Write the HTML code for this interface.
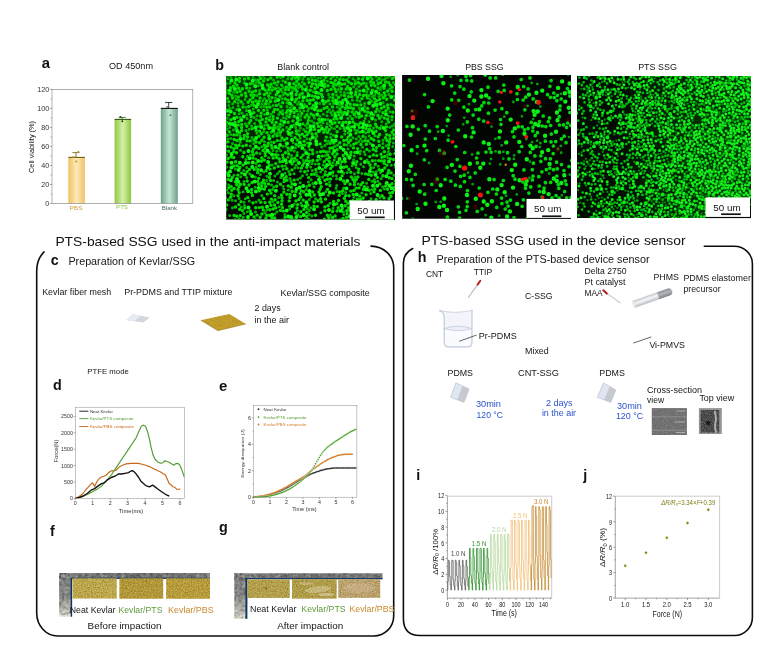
<!DOCTYPE html>
<html lang="en"><head><meta charset="utf-8"><title>PTS-based SSG figure</title>
<style>
html,body{margin:0;padding:0;background:#fff;}
body{width:771px;height:648px;overflow:hidden;}
svg{display:block;font-family:"Liberation Sans",sans-serif;will-change:transform;}
</style></head><body>
<svg width="771" height="648" viewBox="0 0 771 648">
<rect width="771" height="648" fill="#fff"/>
<g id="boxes" fill="none" stroke="#0d0d0d" stroke-width="1.6" stroke-linecap="round">
<path d="M371 246.1 A22.7 21.5 0 0 1 393.7 267.6 V616 A20 20 0 0 1 373.7 636 H57.7 A21 23 0 0 1 36.7 613 V271 C36.7 262 39.5 256.5 44 251.9"/>
<path d="M704.3 246.2 H734.3 A18.1 17.6 0 0 1 752.4 263.8 V617.5 A18 18 0 0 1 734.4 635.5 H420 C409 635.5 403.4 629.5 403.4 618.5 V263 C403.4 256 407 251.5 412.7 248.5"/>
</g>
<text x="55.4" y="245.6" font-size="13.6" fill="#111" textLength="305.0" lengthAdjust="spacingAndGlyphs">PTS-based SSG used in the anti-impact materials</text>
<text x="421.6" y="244.6" font-size="13.6" fill="#111" textLength="264.0" lengthAdjust="spacingAndGlyphs">PTS-based SSG used in the device sensor</text>
<g id="panel-a">
<text x="41.8" y="68.0" font-size="14.8" fill="#111" font-weight="bold">a</text>
<text x="131.0" y="69.0" font-size="9.7" text-anchor="middle" fill="#151515" textLength="44.0" lengthAdjust="spacingAndGlyphs">OD 450nm</text>
<defs><linearGradient id="gPBS" x1="0" x2="1" y1="0" y2="0"><stop offset="0" stop-color="#efc265"/><stop offset=".5" stop-color="#fdeab8"/><stop offset="1" stop-color="#efc265"/></linearGradient><linearGradient id="gPTS" x1="0" x2="1" y1="0" y2="0"><stop offset="0" stop-color="#8fc744"/><stop offset=".5" stop-color="#d6f0a6"/><stop offset="1" stop-color="#8fc744"/></linearGradient><linearGradient id="gBLK" x1="0" x2="1" y1="0" y2="0"><stop offset="0" stop-color="#6f9f8a"/><stop offset=".5" stop-color="#c6e6d6"/><stop offset="1" stop-color="#6f9f8a"/></linearGradient></defs>
<rect x="68.3" y="157.4" width="16.6" height="46.1" fill="url(#gPBS)"/>
<path d="M68.3 157.4H84.9" stroke="#6e5e0c" stroke-width="1.1"/>
<path d="M76.0 157.4V152.6M72.4 152.6H79.6" stroke="#6e5e0c" stroke-width=".8" fill="none"/>
<circle cx="73.2" cy="157" r=".95" fill="#b89a30"/>
<circle cx="78.4" cy="151.6" r=".95" fill="#b89a30"/>
<circle cx="76.3" cy="161.5" r=".95" fill="#b89a30"/>
<rect x="114.6" y="119.4" width="16.5" height="84.1" fill="url(#gPTS)"/>
<path d="M114.6 119.4H131.1" stroke="#2f5a12" stroke-width="1.1"/>
<path d="M122.2 119.4V117.4M118.7 117.4H125.8" stroke="#2f5a12" stroke-width=".8" fill="none"/>
<circle cx="120.4" cy="116.9" r=".95" fill="#1e3a0c"/>
<circle cx="122.3" cy="121.3" r=".95" fill="#1e3a0c"/>
<rect x="160.8" y="108.4" width="17.0" height="95.1" fill="url(#gBLK)"/>
<path d="M160.8 108.4H177.8" stroke="#0c0c0c" stroke-width="1.1"/>
<path d="M168.7 108.4V102.5M165.1 102.5H172.3" stroke="#0c0c0c" stroke-width=".8" fill="none"/>
<circle cx="165.9" cy="102.4" r=".95" fill="#3f8a6a"/>
<circle cx="167.1" cy="106.9" r=".95" fill="#3f8a6a"/>
<circle cx="170.4" cy="115.3" r=".95" fill="#3f8a6a"/>
<rect x="52.0" y="89.4" width="140.8" height="114.1" fill="none" stroke="#7d7d7d" stroke-width=".6"/>
<text x="49.2" y="205.9" font-size="6.8" text-anchor="end" fill="#333" textLength="4.0" lengthAdjust="spacingAndGlyphs">0</text>
<text x="49.2" y="186.9" font-size="6.8" text-anchor="end" fill="#333" textLength="8.0" lengthAdjust="spacingAndGlyphs">20</text>
<text x="49.2" y="167.9" font-size="6.8" text-anchor="end" fill="#333" textLength="8.0" lengthAdjust="spacingAndGlyphs">40</text>
<text x="49.2" y="148.8" font-size="6.8" text-anchor="end" fill="#333" textLength="8.0" lengthAdjust="spacingAndGlyphs">60</text>
<text x="49.2" y="129.8" font-size="6.8" text-anchor="end" fill="#333" textLength="8.0" lengthAdjust="spacingAndGlyphs">80</text>
<text x="49.2" y="110.8" font-size="6.8" text-anchor="end" fill="#333" textLength="12.0" lengthAdjust="spacingAndGlyphs">100</text>
<text x="49.2" y="91.8" font-size="6.8" text-anchor="end" fill="#333" textLength="12.0" lengthAdjust="spacingAndGlyphs">120</text>
<path d="M52.0 203.5h-2.2M52.0 184.5h-2.2M52.0 165.5h-2.2M52.0 146.4h-2.2M52.0 127.4h-2.2M52.0 108.4h-2.2M52.0 89.4h-2.2M52.0 194.0h-1.2M52.0 175.0h-1.2M52.0 156.0h-1.2M52.0 136.9h-1.2M52.0 117.9h-1.2M52.0 98.9h-1.2" stroke="#555" stroke-width=".5"/>
<text x="34.0" y="147.0" font-size="6.9" text-anchor="middle" fill="#151515" textLength="51.8" lengthAdjust="spacingAndGlyphs" transform="rotate(-90 34.0 147.0)">Cell viability (%)</text>
<text x="76.0" y="210.2" font-size="5.7" text-anchor="middle" fill="#c9a040" textLength="13.0" lengthAdjust="spacingAndGlyphs">PBS</text>
<text x="122.0" y="209.2" font-size="5.7" text-anchor="middle" fill="#8cc63f" textLength="11.8" lengthAdjust="spacingAndGlyphs">PTS</text>
<text x="169.4" y="210.0" font-size="5.7" text-anchor="middle" fill="#4a6a5a" textLength="15.2" lengthAdjust="spacingAndGlyphs">Blank</text>
</g>
<g id="panel-b">
<text x="215.2" y="69.8" font-size="14.3" fill="#111" font-weight="bold">b</text>
<text x="303.2" y="70.0" font-size="9.7" text-anchor="middle" fill="#151515" textLength="51.8" lengthAdjust="spacingAndGlyphs">Blank control</text>
<text x="484.4" y="69.9" font-size="9.7" text-anchor="middle" fill="#151515" textLength="38.4" lengthAdjust="spacingAndGlyphs">PBS SSG</text>
<text x="657.5" y="70.0" font-size="9.7" text-anchor="middle" fill="#151515" textLength="38.7" lengthAdjust="spacingAndGlyphs">PTS SSG</text>
<defs><filter id="soft" x="-2%" y="-2%" width="104%" height="104%"><feGaussianBlur stdDeviation=".38"/></filter><linearGradient id="glow1" x1="0" x2="0" y1="0" y2="1"><stop offset="0" stop-color="#00a804" stop-opacity=".32"/><stop offset=".35" stop-color="#00a804" stop-opacity=".2"/><stop offset=".7" stop-color="#00a804" stop-opacity="0"/></linearGradient><linearGradient id="glow3" x1="0" x2="1" y1="0" y2="0"><stop offset=".25" stop-color="#00a804" stop-opacity="0"/><stop offset=".6" stop-color="#00a804" stop-opacity=".18"/><stop offset="1" stop-color="#00a804" stop-opacity=".28"/></linearGradient><clipPath id="c1"><rect x="226.2" y="76.0" width="168.8" height="143.5"/></clipPath><clipPath id="c2"><rect x="402.1" y="75.0" width="168.9" height="143.8"/></clipPath><clipPath id="c3"><rect x="577" y="76.0" width="174" height="142.1"/></clipPath></defs>
<g clip-path="url(#c1)"><rect x="226" y="75" width="170" height="145" fill="#020a02"/><rect x="226" y="75" width="170" height="145" fill="url(#glow1)"/><g filter="url(#soft)">
<path d="M300.7 216.6h0M267.3 194.1h0M263.4 81h0M242.1 220h0M318.9 192h0M348.1 137.1h0M288.2 122.2h0M253.3 149.1h0M365.1 140.6h0M340 220h0M227.9 141.9h0M320.7 198.8h0M346.8 139.7h0M285.4 152.8h0M366.1 194.8h0M296.9 91.3h0M358.3 172.4h0M348.7 142.4h0M251.5 192.6h0M338.3 207.7h0M369.2 190.3h0M260.1 97.9h0M240.2 91.3h0M254.3 169.4h0M314.4 174.3h0M357.6 148.6h0M237 92.2h0M372.4 160.7h0M244.6 79h0M327.3 215.3h0M284.4 140.1h0M312 134h0M377.4 177.4h0M259.7 82.9h0M248.2 102.3h0M309 132.1h0M390.3 158.8h0M295.3 78h0M385.5 186.1h0M237 134.9h0M263.8 110.2h0M240.4 184.3h0M273.1 116.4h0M345.2 161.7h0M252.9 97.8h0M272 147.9h0M288.3 185.9h0M343.8 140.5h0M332.9 97.6h0M333.2 86.2h0M376.9 100.7h0M382 157.2h0M278 81.9h0M264.2 128.9h0M229.3 131.8h0M308.7 177.6h0M309 117.3h0M384.3 92.7h0M291.7 158.8h0M343.3 79.6h0M238.9 204.6h0M285.5 82.3h0M332.2 123.8h0M361.9 98.6h0M300.7 196.9h0M265.2 148h0M269.5 190.4h0M255.8 101h0M318 74.3h0M285.8 74.3h0M354.6 213.1h0M239.6 78.1h0M387.5 189.3h0M342.1 175.9h0M321.3 186.6h0M384.4 160.6h0M350.8 172.3h0M325 174.8h0M280 96.2h0M235.1 122.4h0M318.1 110.7h0M259.2 75.7h0M311.4 86.4h0M344.5 112.5h0M363.2 208.2h0M328 85.7h0M331 82.5h0M259.6 142.7h0M273 136.2h0M269.3 152.5h0M332.8 153.8h0M292.9 120.9h0M351.2 126.9h0M228.2 158.5h0M239 145.3h0M334.9 113.3h0M274.8 217.9h0M290.9 74.2h0M385.6 82h0M341.7 136.9h0M267.6 84.9h0M258.8 148.2h0M349.1 195.7h0M240.3 215.6h0M339.8 79.3h0M396.4 120.8h0M295.3 89h0M257.6 172.5h0M354.6 181.8h0M346.1 220.5h0M256.1 142h0M304.6 136.4h0M371.8 130.7h0M343.6 181h0M300.8 211.8h0M356.1 133h0M265.6 186.5h0M228.1 179.4h0M355.5 208.1h0M253.9 139.9h0M307.2 134.6h0M228.3 199.9h0M300 108h0M241.2 101.8h0M387.6 105h0M307.3 100.5h0M254.3 95.3h0M283.3 158.2h0M376.2 76.2h0M359.6 94.6h0M382.2 212.8h0M294.2 180.1h0M280.5 132.2h0M377.7 204h0M274.7 109.4h0M282.7 155.3h0M262.3 207.2h0M235.5 207h0M330 148.3h0M379.2 78.5h0M325.3 140.6h0M275.5 154.8h0M282.2 166.1h0M318.9 119.5h0M345.8 201.2h0M254 216.9h0M298.7 146h0M326.8 159.2h0M275.1 199.8h0M234.9 82.8h0M387.9 173.3h0M253.8 112.8h0M235.6 161.7h0M292.2 191.3h0M247.1 140.7h0M376.1 199.5h0M274.6 82.9h0M343 122.4h0M385.1 95.4h0M323.8 132.3h0M386.4 126.9h0M301.4 168.1h0M267 132.8h0M382.8 147.7h0M258.8 178.4h0M358.5 78.6h0M390.2 85.1h0M359 220.4h0M347.1 213.7h0M343.2 155.4h0M259.3 207.6h0M379.7 99.4h0M390 138.6h0M376.9 208.6h0M363.2 198h0M345.9 122.3h0M302.7 89h0M353 179.5h0M350.7 140.3h0M285.4 89.6h0M247.5 133.7h0M277.9 202.5h0M258.9 136.2h0M378.1 136.8h0M312.8 160.5h0M300.1 193.6h0M313.4 99.8h0M352.2 118.9h0M267.5 145.9h0M379.9 128.4h0M236.3 128.3h0M286.3 112.6h0M346.2 89.1h0M312.5 83.7h0M353.8 144.3h0M247.6 220.2h0M324.1 108.4h0M277.7 109.6h0M258.5 110.4h0M350.8 191.1h0M328.1 205.7h0M343 218.4h0M224.6 146.3h0M238.3 96.9h0M230.6 87.8h0M265.3 155.8h0M284 178.7h0M233.8 166h0M296.7 81.5h0M266.5 100.9h0M243.9 152.5h0M263 150.4h0M303.1 155.1h0M268.2 143.2h0M357.3 199.2h0M282.7 102.8h0M372.8 203.6h0M388.1 108.3h0M338.6 171.7h0M238.7 121.6h0M260.7 78.5h0M305.6 131.6h0M226.7 204.9h0M264.8 183.4h0M351.5 83.7h0M291.9 169.9h0M273 119.2h0M335.3 80.4h0M289.5 129h0M380.4 190.4h0M276.7 157.5h0M296.2 144.4h0M360.5 122.9h0M265.2 152.7h0M371.2 175.3h0M350.8 155h0M290 113.9h0M326.5 184.1h0M332.6 211.5h0M352.2 207.5h0M286.9 194.2h0M326.7 127.1h0M363.1 215.3h0M346.5 166.6h0M396.4 103.8h0M327.5 132.4h0M269.8 202.2h0M306.7 212.4h0M263.8 198.5h0M363 220.2h0M368.8 220.2h0M323.4 151.2h0M324.9 210.7h0M227.2 135.2h0M392.9 112.2h0M260.7 116.2h0M308.8 154.3h0M336.4 84.8h0M321.4 201.9h0M359.7 196.1h0M372.3 220.4h0M388.7 122.1h0M349.8 210.4h0M248.7 106.6h0M249.4 169.4h0M314.4 195h0M389.7 192.9h0M246.8 75.3h0M376.6 147.6h0M392.1 132.2h0M279.2 75.3h0M366.1 128.8h0M315.5 215.2h0M356.1 188.1h0M393.6 159.5h0M309.4 185.3h0M365.6 173.9h0M287.7 110.2h0M350.9 107.8h0M384.9 75.2h0M392.5 192.5h0M376.9 127h0M292.6 87.7h0M269.4 120h0M368.5 162.5h0M323.5 75.5h0M233.8 151.6h0M392.1 87.3h0M238.5 88.2h0M281.6 85.1h0M392 207.6h0M295.8 220.3h0M395.4 181h0M257.1 215.1h0M267.6 125.1h0M395.3 84.6h0M301.1 157.6h0M338.6 97.5h0M359.9 132.1h0M355.4 201.7h0M332.6 166.1h0M245.4 93.3h0M337 126.4h0M303.7 191.7h0M338 111.9h0M235.7 145.2h0M385.5 130.5h0M297 208h0M324.6 84h0M252.1 182.5h0M303.2 200.1h0M325.5 167.3h0M242.9 107.1h0M288.2 148.2h0M264.4 189.3h0M264.5 94.5h0M384.2 163.3h0M371.3 85.3h0M344.9 130.7h0M280.2 124.2h0M304.1 141.2h0M355.9 92h0M236.5 152.8h0M239.4 81.2h0M380.7 82.4h0M341.2 75.9h0M266.2 170.7h0M386.9 165.1h0M334.9 122.7h0M368.4 174.5h0M270.6 101.5h0M316 133.7h0M353.1 122.1h0M381.9 204.5h0M330.7 168.5h0M269.4 177.4h0M228.8 115.1h0M280.7 89.8h0M379.3 145.5h0M364.7 111.2h0M354.2 104.8h0M230.8 119.7h0M339.2 195.4h0M348.9 76.9h0M390.2 154.2h0M388.8 144.7h0M336 91.7h0M308.3 219.5h0M370.4 76.7h0M319.2 84.5h0M363.4 189.5h0M262 214h0M277.5 118.1h0M301.4 86.5h0M341.5 88.7h0M261.8 185.8h0M350.9 152.2h0M327.7 175.3h0M389.6 141.8h0M320.1 189.3h0M342.8 190.7h0M347.5 155.3h0M390.9 196.3h0M328.5 100.6h0M314.1 202h0M301.1 190.6h0M373.8 140h0M332.8 172.3h0M305.2 219.6h0M342.4 208.3h0M343.8 167.2h0M283.9 192.1h0M242.5 210.6h0M281.4 195h0M328.8 217.7h0M295 137.6h0M276.6 186.2h0M266.4 118.4h0M224.5 119.1h0M224.4 164.3h0M314 206.1h0M337.1 211h0M333.5 76.2h0M373.5 82.8h0M351.3 176.9h0M292.1 163.9h0M397 156.5h0M327.6 179.1h0M331 78.6h0M338.5 200.5h0M387 140.5h0M270.6 180.4h0M370.3 210.2h0M224.6 95.9h0M337.1 131.7h0M275.2 127.9h0M264.4 145.3h0M280.4 210.4h0M315.5 80.5h0M293.1 76h0M264.1 137.3h0M379.8 183.9h0M259.1 101.3h0M231 147h0M288.8 154h0M378.2 83.7h0M348 111.4h0M311.1 113.9h0M321.5 94.4h0M287.8 131.2h0M236.8 117.3h0M380.2 207h0M354.2 114.5h0M265.6 103.8h0M384.4 118.1h0M250.1 99.9h0M246.7 88h0M282.7 114h0M359.1 117.2h0M286.8 168.8h0M249 185h0M370.2 125.8h0M226.9 122.3h0M323.8 103.9h0M393.6 129.9h0M326.3 137.1h0M264.3 160.1h0M360.7 210.8h0M383.4 97.8h0M346.8 210.7h0M333.6 201.5h0M391.1 172.9h0M389.5 75.9h0M318.5 126.5h0M346.6 217.4h0M366.3 95.1h0M394 134.8h0M350.1 184.2h0M286.2 176.8h0M382.9 175.8h0M370.6 81.9h0M384 88.3h0M374.7 189h0M379.1 169.7h0M334.9 156.8h0M263.5 180.2h0M309.4 161.2h0M388.8 82.6h0M326.9 107.3h0M324.3 161.6h0M267.9 79.6h0M353.2 194.5h0M276.2 94.7h0M391.1 219.8h0M261.8 158h0M295.5 213.1h0M224 135.5h0M304.7 171.7h0M388.7 170.4h0M236.7 184.7h0M344.3 144.7h0M297.9 121.2h0M237.1 140.5h0M247.1 171.8h0M345.7 195.6h0M359.4 217.3h0M373.4 154.9h0M224.3 138.6h0M270.8 77.9h0M237.9 175.1h0M392.6 215.4h0M342.9 100.3h0M231.7 190.3h0M346.6 105.2h0M281 106.8h0M355.5 94.8h0M325.8 77.3h0M384.8 202.2h0M277.3 140.6h0M296.2 94.5h0M238.2 125.1h0M396.7 170.6h0M265.1 202.6h0M320.9 110.5h0M339 114.7h0M282.7 161.4h0M367.4 97.7h0M339.7 142.7h0M345.2 205.7h0M298.9 199.5h0M274.3 168h0M271.3 145.2h0M285.1 93.3h0M271.9 217.8h0M304.6 145.1h0M248.5 78.2h0M227.1 162.1h0M396.3 91.7h0M389 198.8h0M241.7 124.4h0M320.6 151.7h0M307.6 123.6h0M376.1 131.3h0M394.8 76.8h0M382.9 215.8h0M357.6 97.3h0M339.6 101.9h0M342.8 114.8h0M259.5 120.9h0M233.5 86.3h0M231.9 95.4h0M261.8 182.6h0M348.8 82.1h0M340 109h0M225.9 219.8h0M271.4 199.1h0M369.4 129.1h0M249.2 123.1h0M280.5 184.2h0M357 75h0M282.8 130h0M229.4 93.6h0M368.1 141h0M317.2 160.5h0M337 154h0M292.1 183.9h0M287.8 94.8h0M231.2 186.4h0M392.4 78.4h0M239.8 167.5h0M253.5 154.7h0M263.3 209.9h0M356.8 161.8h0M304.2 162.9h0M317.3 206.6h0M325.3 129.7h0M329.9 185.5h0M268.1 220.5h0M253 202.9h0M250.2 211h0M344.5 95.5h0M251.1 116.6h0M358.3 124.9h0M255.6 91h0M269.5 215.4h0M369.8 156.6h0M266.9 107.2h0M341.9 84.3h0M334.1 103.3h0M333.7 143h0M385.9 110.7h0M356.3 143.1h0M379.6 134.4h0M381.3 108.3h0M335.1 215.9h0M255.7 207.8h0M315.2 96.5h0M234.7 101.6h0M246.3 145.2h0M266 121.9h0M309.6 103.4h0M353.9 190.4h0M345 183.6h0M324.4 219.2h0M344.7 83.9h0M318.8 164.1h0M279.9 161.9h0M325.1 119.6h0M224.7 108.6h0M225.1 198.1h0M348.9 169.2h0M364.4 186.7h0M232.6 98.1h0M277.2 77.2h0M322.5 97h0M339.1 122.4h0M250.8 74.6h0M306.5 106.5h0M259.6 93.7h0M334.9 88.9h0M360.9 144.5h0M261.2 113.1h0M341.1 111.9h0M339.8 192h0M294.1 112.5h0M238.1 195.8h0M395.8 149.9h0M267 92.9h0M259.2 190.9h0M291.8 96.4h0M380.8 220.5h0M324.6 86.9h0M301.8 113.5h0M295.1 101.8h0M376.7 155.6h0M247.5 137h0M282 200.7h0M344.3 127.9h0M241 201.6h0M367.9 112.3h0M312.2 95.9h0M295.9 85.9h0M333.7 83.2h0M244.4 135.5h0M252.5 92h0M251.7 189.5h0M276.5 105.4h0M271 193h0M324.9 206.9h0M311.4 174.4h0M315.8 84.2h0M228.7 151.3h0M227.5 173.1h0M308.3 120.5h0M274.7 195.7h0M315.8 169.5h0M337.1 118.9h0M257.6 181.5h0M299.9 94.7h0M332.5 106.9h0M235.4 181.7h0M366.3 86.4h0M392 178.6h0M322.3 156.1h0M309 82.4h0M241.6 95h0M306.7 216.4h0M247.2 181h0M385.5 137.8h0M336 220h0M289.2 116.9h0M387.6 91h0M250.7 120.5h0M325.5 199.1h0M327.5 189.5h0M386.7 134.6h0M268.7 96h0M269.9 209.8h0M241.6 130.5h0M278.7 129.4h0M282 138h0M392.1 116.7h0M286.5 86.9h0M225 159.1h0M274.3 125.1h0M236.9 85.1h0M373.5 114.9h0M256.2 130.4h0M360.9 104.9h0M327.4 90.5h0M306.7 167.2h0M320.2 143.9h0M265.2 90.1h0M239.5 132.8h0M302.3 134.1h0M363 136.3h0M351.8 96.7h0M336.8 203.7h0M396.3 212.1h0M312.6 191.9h0M362.5 79.2h0M312.8 153.8h0M357.9 176.9h0M317.3 123.5h0M345.3 108.2h0M285.2 98.9h0M381.1 154.1h0M347.9 203.6h0M291.9 132.6h0M376 150.9h0M304.4 84h0M278.6 148.2h0M276.2 122.4h0M290.1 194.4h0M379.2 211.8h0M302.7 165.4h0M395.9 126.5h0M361 184.7h0M253.9 105.2h0M324 80.1h0M396.8 160.6h0M308.1 157.4h0M372.1 79.1h0M225.9 93.1h0M281.2 120.6h0M374.9 182.2h0M388.5 148.2h0M317.5 87h0M355.7 164.6h0M268.9 135.6h0M353.5 108.8h0M270 169.1h0M296.3 130.7h0M277 135.8h0M296.3 99.2h0M374.8 85.8h0M283.4 211.1h0M302.8 123.9h0M387.6 119.2h0M395 153.5h0M333.5 193h0M324.9 180.3h0M348 107.7h0M352.9 200.6h0M299 84.3h0M273.1 209h0M331 89.4h0M270.9 205.3h0M296.7 133.7h0M370.8 168.3h0M378 88h0M274.5 204.9h0M362.8 182.6h0M266.7 215.2h0M368.8 179.4h0M383 112.7h0M286.9 180.2h0M259.3 165.7h0M370.1 165h0M308.9 146.2h0M346.8 80h0M226 83.5h0M366.3 115.5h0M281.6 204.2h0M234.5 113.5h0M353.7 74.9h0M360.8 84.2h0M312.3 80h0M252.3 128.6h0M296.8 110.7h0M350.2 104.2h0M238.9 187h0M358.3 82.5h0M294.9 158.3h0M272.2 90.1h0M396.6 146.9h0M232.3 177.4h0M311.8 108h0M359.1 187.9h0M251 95h0M312.4 150.3h0M246.9 126.2h0M234.2 139.5h0M290 174.2h0M371.2 138.5h0M342.3 106.6h0M374.9 102.8h0M297.7 204.6h0M310.2 90.2h0M330.6 179h0M241.6 127.5h0M273.2 158h0M366.4 144.2h0M289.8 87h0M278.2 166.4h0M394.4 189.9h0M389.8 135.4h0M302.9 100.9h0M329.5 157.8h0M354.7 220.3h0M242.4 88.7h0M262.3 119.4h0M337 149.7h0M332.7 147.7h0M375.3 164.3h0M242.8 146.1h0M375.5 124.2h0M382.1 195.8h0M260.7 123.5h0M289.9 197.4h0M269.7 87.2h0M241.7 173.1h0M269.9 107h0M236.9 147.7h0M236.8 216.3h0M359.5 127.6h0M256.6 152.9h0M306.9 114.8h0M348.6 207.8h0M342.1 161.8h0M378.7 160.6h0M230.6 197.2h0M384.8 168h0M237.1 165.7h0M268.8 89.8h0M295.7 191.8h0M320.3 121.9h0M261.9 140.2h0M384.7 156.4h0M396.7 194.1h0M282.5 207.6h0M348.6 96.6h0M273.9 142.4h0M234.9 219.9h0M363.5 95.5h0M303.9 209.4h0M318.9 93.3h0M356.3 179.6h0M257.7 169.5h0M231.3 194.3h0M242.8 156.8h0M226.1 125.8h0M378.9 93.4h0M247.8 197.6h0M258.7 184.3h0M275.3 101.3h0M252.9 158.1h0M244.8 208.1h0M373.2 149.5h0M314.7 129.4h0M227.5 146.6h0M394 218.3h0M234.1 215.4h0M239.6 209.2h0M358.7 169.2h0M308.3 79h0M250.2 140.9h0M326 101.8h0M360.4 199.5h0M356.1 112.1h0M386.6 99.3h0M379.5 118.2h0M266.7 74.1h0M384.1 106.8h0M293.8 83.6h0M354.7 152.4h0M378.8 141.3h0M384 197.9h0M332.5 217.5h0M381.5 75.6h0M250.4 83.8h0M282 197.8h0M361.5 205.3h0M330.2 143.2h0M299.2 97.6h0M298.6 79.1h0M228.8 187.8h0M275.8 207.9h0M359.8 90.9h0M243 165.1h0M246 96.2h0M375.7 111.7h0M294.3 116.4h0M291.2 187.2h0M234 148.6h0M313.5 115.4h0M355.4 124.1h0M275.4 88.8h0M275.7 163.6h0M326.3 151.9h0M306.6 160.4h0M344.3 198.3h0M294.1 161.2h0M392.1 91.2h0M357.3 105h0M261.4 161.3h0M310.4 139.3h0M233.8 157.5h0M260.8 202.2h0M299.4 135.3h0M258.1 80.3h0M272.4 128h0M234.1 188.5h0M289.2 200.9h0M363.5 83.1h0M368 88.9h0M389.3 177.8h0M285 217.3h0M280.4 112.2h0M374 191.9h0M332.9 94.4h0M271.1 84.3h0M252.6 102.3h0M272.1 122.3h0M297.1 155.4h0M366.4 75h0M243.8 138.5h0M288 100.3h0M318 200.8h0M355.3 83.8h0M233.9 134.9h0M279.2 159h0M394.3 187.1h0M354.5 184.7h0M310.5 100.2h0M378 115.5h0M367.6 108.4h0M286.3 162.9h0M291.7 78.8h0M361.2 74.7h0M329.1 129.8h0M239.2 192.6h0M366.9 149.4h0M396.5 112.6h0M248.5 162.7h0M297.3 140h0M228.8 101.8h0M347.6 86.6h0M252.4 151.7h0M368.4 131.8h0M265.9 218.3h0M291 150.1h0M302.3 93.2h0M231.1 156.7h0M259.7 131.1h0M377.1 109h0M252.4 195.4h0M268.5 183.9h0M288.7 89.6h0M372.6 216.1h0M282 220.1h0M393.6 138.2h0M314.9 88.5h0M269.3 165.2h0M361.7 115.9h0M249 91.3h0M272 97.8h0M261.6 188.8h0M372.4 90.2h0M302.1 205.7h0M384.4 151.7h0M308 205h0M273.5 111.9h0M395.9 167.6h0M353.4 147.9h0M305 117.3h0M352.2 111.9h0M392 183.8h0M322.4 169.4h0M360.8 158.6h0M227.4 98.5h0M260.2 217.3h0M334 119h0M381.5 160.9h0M301.8 145h0M376.8 219.2h0M327.7 154.9h0M261.5 133.7h0M397 88.7h0M286.9 138.5h0M238 189.8h0M313.3 105.4h0M244.2 184.4h0M330.2 164.2h0M284.1 181.6h0M332.8 100.7h0M374.6 98.7h0M329.2 161.5h0M224.5 105.5h0M296 201h0" stroke="#00dc04" stroke-width="3.4" stroke-linecap="round" fill="none"/>
<path d="M311.2 179.8h0M258.4 126.2h0M224.8 174.5h0M375.4 160.6h0M396.1 79.7h0M392.8 146.6h0M225.1 101.9h0M264.4 141.8h0M327 143.8h0M228.8 105.4h0M250.3 145.9h0M256.1 163.6h0M300.7 116.3h0M306.9 186.4h0M254 117.6h0M298.1 167.7h0M387.9 207.8h0M260 153.6h0M312.8 183.6h0M379.1 96.6h0M327.4 81.2h0M283.1 146.3h0M262.7 100.8h0M395.2 107.5h0M283.1 95.1h0M337.6 145.1h0M354.4 173.7h0M243.8 170.5h0M250.5 155h0M309.3 199.5h0M238.9 100h0M347.2 172.6h0M329.3 109.6h0M264.6 114.5h0M356.2 167.6h0M253.2 109.1h0M232.7 103.7h0M287.9 157.3h0M295.5 147.8h0M370.3 143.4h0M393.3 82.4h0M319.3 177h0M280.5 150.8h0M380.4 201h0M325.1 155.8h0M303.8 110.7h0M300 111.3h0M286.7 127.4h0M262.1 104h0M336.6 95.3h0M364.6 103.5h0M356.3 139h0M303.3 160.3h0M361.9 173.6h0M227.2 118.3h0M283.2 169.2h0M273.5 79.9h0M269.7 117h0M381.4 87.1h0M344.8 134.1h0M317 136.2h0M337 191.5h0M323.3 164.9h0M232.9 107.6h0M228.6 184.8h0M262.9 75.8h0M294 125.1h0M347.9 118.5h0M312.4 170.4h0M381.8 121.7h0M297.3 210.7h0M279.5 171.4h0M325.4 171.6h0M366.9 205.6h0M224.1 215.2h0M251.2 105.2h0M394.5 124.1h0M365.7 133h0M308.7 108.6h0M303.7 129.4h0M229.6 215.4h0M293 219.2h0M224.2 98.7h0M246 159.4h0M256.9 133.2h0M370 116.1h0M274.9 133.7h0M245.9 107.2h0M289.3 206.2h0M369.4 151h0M275.4 98h0M365.1 154.6h0M320.8 212.7h0M280 135.3h0M230.9 138.6h0M348 149.1h0M382.9 140.3h0M375.2 205.5h0M273.1 105.6h0M264.6 125.3h0M243.9 213.4h0M329.5 182.2h0M394.4 96h0M379.8 197.5h0M347.8 93.1h0M257.2 95.6h0M294.8 168h0M245.3 198.8h0M308.5 182.1h0M315.6 198.8h0M339.6 105h0M360.7 164.2h0M297.1 160.2h0M259 199.9h0M243.1 104.1h0M384.9 79.2h0M312.1 74.1h0M366.6 183.2h0M380.5 172.6h0M279 104.2h0M299.1 101.9h0M388.5 151.7h0M319.9 116.6h0M264.6 78.3h0M355 177.1h0M295.7 127.4h0M273 150.6h0M272.5 189.4h0M286.9 103h0M246.9 114.6h0M315.6 138.6h0M255.3 177.1h0M384.4 188.9h0M336 164.8h0M357.5 130.6h0M396.5 176.2h0M354.8 129.8h0M304.8 150h0M388.9 94.6h0M309.1 214.6h0M226.8 166.9h0M243.1 191.7h0M282.6 110.4h0M287.7 78.9h0M307.3 128h0M254.6 123.4h0M298.5 87.5h0M255.7 74.6h0M275 213.9h0M321.3 125.5h0M224.3 79h0M281.9 98.7h0M358.8 136.6h0M233.4 129.9h0M292.6 90.9h0M238.2 105.9h0M236.2 99.2h0M240.1 135.7h0M256.1 202.1h0M348.1 125.3h0M300.4 177.9h0M352.9 137.8h0M328.4 195.2h0M313.9 122.8h0M291.6 155.6h0M296.1 165.2h0M389.7 211.3h0M253 77.2h0M391.3 165.3h0M256.3 82.5h0M263.7 172h0M283.8 189h0M371.6 101.3h0M307.7 92.7h0M350.6 205.2h0M390 111.8h0M328 119.4h0M364.8 218h0M232.1 200.2h0M293.2 142.8h0M314.6 76.7h0M244 181.5h0M336.7 185.4h0M269.1 99h0M342.4 193.6h0M239.2 113.8h0M245.5 123.8h0M369.3 136h0M233.9 195.7h0M396.6 136.7h0M373.3 171.9h0M328.4 140.9h0M280.5 140.8h0M267.5 110.2h0M334.5 128.7h0M360.2 111h0M294.3 204.2h0M381.2 178.4h0M280.8 177.4h0M321.7 147.1h0M294.2 151.1h0M240.6 150.2h0M307.7 111.1h0M246.7 177.5h0M300.2 182.8h0M310.6 167h0M339.5 86.3h0M393.6 105.2h0M263.9 106.6h0M377 80.6h0M338.3 89.4h0M235.5 200.8h0M328 75.5h0M271.5 185.1h0M277.6 126.4h0M367.6 187.2h0M240.2 142.3h0M304.5 104.4h0M323.2 122.8h0M320.6 171.9h0M324.7 145.6h0M345.6 192.4h0M266.9 176.2h0M366.8 92h0M333 162.7h0M261.7 146.7h0M376.2 215.8h0M387.2 77.6h0M291.3 135.8h0M358.9 141.4h0M393.9 175.2h0M287.1 106.4h0M356.5 89h0M255.5 212.1h0M362.5 141.6h0M372 189.7h0M302.3 82h0M284.8 214.5h0M382.9 143.4h0M268.5 103.7h0M290 178.6h0M249.2 129.3h0M339.9 128.4h0M386.1 145.7h0M229.7 108.5h0M361.8 193.1h0M364.6 106.5h0M246.7 167.6h0M277.4 173.8h0M363.7 76.7h0M372.4 96.4h0M365.8 220.6h0M369 95.4h0M337.2 107h0M288.8 171.5h0M256.4 119.5h0M255.4 79.4h0M255.5 219.6h0M302.5 175.7h0M360.7 138.9h0M288.3 189.9h0M396.1 117.7h0M240.7 176.7h0M300.2 138.3h0M387.5 154.8h0M246.4 110.4h0M227.8 78.7h0M308.6 74.5h0M265 212.6h0M261.7 195.5h0M242.1 113h0M249.8 88.1h0M307 138.7h0M279 206.8h0M297.7 179.6h0M375.5 120.1h0M325.8 191.7h0M294.1 173.8h0M353.7 86.7h0M287.9 151.3h0M276.9 211.8h0M395.5 184.1h0M389.8 89h0M355.9 116.8h0M378.3 166.2h0M327.4 111.8h0M381.6 116.2h0M283.5 117.8h0M283 80.8h0M259.6 90.5h0M246 130.6h0M307.7 170.7h0M224.7 186.6h0M297.3 152.4h0M373.6 167.6h0M329.9 125.4h0M247.1 118.6h0M244.3 82.7h0M335.1 146.3h0M241.2 206.9h0M330.7 75.2h0M224.4 116.3h0M382.2 79.9h0M311.5 120.9h0M298.1 114.4h0M270.9 132.3h0M366.4 83.6h0M350.2 116.3h0M383.1 102.4h0M364.1 151.8h0M227.8 138.9h0M358 210.3h0M224.6 177.3h0M347 145h0M234 175.2h0M278.3 154.9h0M277.7 132.7h0M332.9 110.8h0M249.3 200.9h0M273.8 186.9h0M320.8 77.9h0M227 190.1h0M348.2 132.7h0M258 85.7h0M386.2 124h0M320 159.3h0M311.9 216.1h0M286.2 118.5h0M377.8 181.2h0M333.3 135.2h0M300.5 119.7h0M333.1 208.3h0M330.7 112.5h0M267.1 210.1h0M389.7 127.3h0M357.1 100.2h0M319.6 103.4h0M318.4 81.3h0M300.6 128h0M382.6 186.7h0M305.4 125.6h0M280.6 77.8h0M380.3 89.8h0M374.9 135.8h0M336.1 188.2h0M359.3 108.2h0M272.9 201.5h0M299.2 130.7h0M286.1 146.2h0M266.7 180.6h0M271.1 142.1h0M227.1 129.3h0M251.5 125.9h0M365.7 137.5h0M373.5 209.4h0M230 83.2h0M344.2 75.4h0M307.1 142.9h0M283.1 186.3h0M353.6 159.7h0M235.6 76.1h0M343.7 173.3h0M255.2 187.3h0M306.2 189.4h0M323.3 114.3h0M240.2 117.5h0M260.9 106.9h0M352.4 100.3h0M253.2 83.7h0M255.7 158.9h0M314 186.8h0M242.6 75.4h0M374.4 179.4h0M374.9 95.2h0M235.3 168.9h0M276.8 151.3h0M239 218.8h0M340.6 164.4h0M311.3 196.7h0M387.7 157.7h0M322.7 177h0M244.5 205.4h0M301 203.1h0M245.1 99.5h0M264.5 98.6h0M381.6 95.3h0M376.3 171.8h0M318 78h0M371 198.7h0M298.1 214.8h0M336.4 175.7h0M358.2 183.9h0M288.4 76.2h0M328.6 94.6h0M313.2 91.8h0M226.8 90.3h0M385.2 213.3h0M329.3 151.5h0M273.6 180.5h0M341.1 95.3h0M395.2 220.8h0M363.5 166.7h0M393.2 211.6h0M350.6 145.6h0M230.7 134.6h0M327.3 123.5h0M239.1 198.5h0M306.7 86.8h0M302.9 78.9h0M249.9 174h0M278.8 114.5h0M373.5 127.9h0M268.7 157.7h0M354.3 155.9h0M388.5 116.3h0M253.8 143.6h0M364.1 121.2h0M260.3 174.6h0M270.3 93h0M365.2 118.6h0M367 159.9h0M236.6 109.4h0M256.3 167h0M314.4 118.1h0M311.3 77.1h0M247.4 156.2h0M343.4 211.9h0M272 165h0M224.2 123.7h0M297.5 104.2h0M257.1 115.7h0M285.3 165.9h0M393.4 143h0M343.7 187.9h0M229.7 127.5h0M334.3 160h0M239.6 74.7h0M251.9 137.4h0M359.9 101.3h0M247.3 211.7h0M330.4 214.9h0M352.2 165.8h0M277.5 181.9h0M309.4 210.4h0M276.8 84.9h0M391.8 119.8h0M316.4 172.3h0M290.8 181.3h0M233.7 92.3h0M360 153.7h0M329.7 97.3h0M274.9 176h0M300.5 171.2h0M272.6 87.2h0M237.7 103h0M263.6 131.7h0M231.2 77.3h0M306.9 174.5h0M337 77.3h0M362.5 147.2h0M282.9 125.3h0M317.1 175.4h0M224.6 211.8h0M317 152.3h0M336.6 178.8h0M280.3 127.1h0M232.4 207.7h0M380 216.6h0M285 173.3h0M379.4 111.2h0M289.8 209.1h0M381.4 126h0M330.6 137.5h0M312.1 163.6h0M228.4 192.7h0M372 181.3h0M271.2 114.2h0M344.4 92.4h0M315.4 164.1h0M353.9 197.3h0M282.5 92.1h0M307.2 208.4h0M390.8 104.5h0M369.1 121.8h0M396.7 74.8h0M278.4 87.9h0M353.1 78.7h0M276.2 74.2h0M283.2 87.4h0M278.7 197.5h0M343.8 214.6h0M226.6 155.1h0M392.3 126.1h0M327 115.7h0M292.1 105.3h0M331.4 127.8h0M290.3 107.7h0M370.7 193.4h0M340.5 91.9h0M360.4 150.9h0M300.2 76.7h0M232.5 143.6h0M306.3 97.3h0M286.8 115.4h0M244 202.3h0M330.1 203.2h0M355.2 80.7h0M310.9 207.8h0M373.3 75h0M333.1 175.8h0M235.4 96h0M243.3 217.2h0M329.9 104h0M330.6 133.9h0M358.8 86.5h0M309.6 149.5h0M332.2 115h0M369.9 99.2h0" stroke="#00b803" stroke-width="3.0" stroke-linecap="round" fill="none"/>
<path d="M377.2 185.7h0M349.7 216.4h0M363.7 90.4h0M329 210.1h0M267.5 113.6h0M303.2 186.1h0M349.3 122.4h0M392.9 74h0M350.3 130.6h0M316.1 103.3h0M288.2 216.4h0M318.9 130.9h0M296.6 189h0M246.5 84.4h0M358.8 207.5h0M335.5 116.1h0M395.6 164.7h0M255.6 127.6h0M282.2 175h0M231.6 153.9h0M397 215.5h0M365.9 212.5h0M340.4 178.9h0M254.7 181.4h0M319 179.8h0M305.9 89.7h0M306.2 153h0M269.3 138.5h0M292 139.9h0M389.4 204h0M238.6 170.1h0M312.8 137.2h0M299.5 187.6h0M336 100.5h0M354.1 126.8h0M262.2 85.3h0M256.4 106.8h0M364.9 161.9h0M231.4 167.6h0M371.5 93.1h0M341.1 117.9h0M369.3 212.9h0M334 204.4h0M330.6 121.3h0M267.6 167.5h0M369.1 103h0M363.6 124.1h0M306.4 194.8h0M283 75.9h0M299 162.9h0M246.4 188.2h0M342.4 125.3h0M291.1 217.1h0M233.1 74h0M362.7 131.6h0M237 178.9h0M255.9 146.7h0M395.4 208h0M308.7 95.2h0M230.7 111.6h0M237.2 131.1h0M289.9 103.5h0M314.8 109.2h0M388.3 215.8h0M395.2 99.9h0M337.7 162.4h0M391.8 188.2h0M258.2 161h0M347.5 102.2h0M294.7 195.5h0M330 173.5h0M384 209.3h0M278.2 99.9h0M316.5 144.3h0M356.7 194.4h0M345.9 153.1h0M255.3 86.3h0M340.8 210.7h0M386.7 183.1h0M234.2 118.4h0M294.2 108.2h0M277.9 92.1h0M227.5 74.6h0M377.6 195.1h0M373.3 105.7h0M227.1 110.8h0M234.9 88.9h0M230.3 74.6h0M252.3 176.2h0M272 154.6h0M295 184.4h0M305.4 206.3h0M224.6 87.4h0M284.3 122h0M367.6 78.4h0M373 185.7h0M391.3 97.1h0M314.1 209.3h0M318 97.6h0M350.4 201.8h0M244.9 174.4h0M297.4 76.2h0M258.7 187.9h0M267.4 150.5h0M249.5 111.3h0M258 104h0M389.4 185.7h0M285.5 160.2h0M297.5 118h0M289.4 84.1h0M243.8 116.5h0M346.5 188.4h0M382.1 170.4h0M373.4 133h0M287 143.5h0M349.4 157.8h0M248 216.9h0M309.4 194.6h0M291.8 99.2h0M228.8 175.6h0M269.2 127.9h0M310.7 129.8h0M302.3 148h0M291.4 126.6h0M256.1 138h0M296.9 123.8h0M336.2 136.3h0M239.2 110h0M289 133.8h0M252.7 80.7h0M347.3 181.1h0M383.8 128h0M316.2 141.3h0M335.6 140.5h0M241.3 120.1h0M341.6 205.6h0M239.8 162.7h0M351 93.1h0M313.6 126.3h0M336.9 103.3h0M268.1 162.1h0M224.8 150.4h0M362.9 127.3h0M307.6 164.6h0M372.2 118.4h0M347.8 128.1h0M321.6 82.1h0M344.7 159h0M389 161.4h0M353.2 163h0M224 131.6h0M304.4 75.8h0M236.3 79.4h0M235.3 125.6h0M273.2 130.7h0M386 114.3h0M224.9 142.2h0M386.3 176.3h0M384.1 85.4h0M252.3 166.9h0M321.5 90h0M286.7 210.5h0M224.1 112.1h0M255.9 191.6h0M345.8 99.5h0M272.2 214.7h0M240.4 139.1h0M315.8 183.1h0M320.2 194.7h0M338.9 82.9h0M275.5 147.1h0M351.5 213.4h0M292 206h0M290.3 161.6h0M291.2 93.6h0M342.1 103.1h0M396.4 131h0M303.7 215h0M371.2 113.3h0M340.6 147.5h0M310.4 126.3h0M306.5 202.2h0M369.5 202h0M224.5 180.1h0M376.6 105.1h0M248.5 207.6h0M329.8 192.5h0M296.5 217h0M320.3 182.8h0M357.5 152.3h0M231.5 162.8h0M316.1 92.4h0M248.5 151h0M366.3 189.6h0M362.5 109h0M346.9 114.1h0M262.8 88.2h0M238.2 181.8h0M366.9 125.6h0M270 173.7h0M292.2 147.5h0M380.4 103.7h0M372.9 145.5h0M322.1 85.3h0M267 206.8h0M249.5 158.2h0M322.2 119.7h0M370.7 205.5h0M355.9 217.7h0M322.7 100.7h0M319.2 168h0M341 167.4h0M225.4 209.2h0M350.4 134.8h0M322.1 128.8h0M252.8 162.4h0M224.3 75h0M376 91.7h0M224.7 183.6h0M231.4 80.4h0M309.3 191h0M375.6 212.5h0M332.2 140.5h0M275.9 190.7h0M301.1 104.6h0M334.2 151.1h0M248.1 191.2h0M230.9 180.2h0M310 143.4h0M339.5 158.9h0M327.1 165.1h0M303 107.3h0M280.1 145h0M347.4 74.3h0M261.2 127h0M230 171.6h0M232.8 124.2h0M375.5 174.8h0M369.9 171.3h0M395.3 204.6h0M341.6 171.6h0M299.8 142.6h0M316.1 106.8h0M229.9 123.7h0M273 74.2h0M317.2 114.5h0M251.1 214.1h0M250.9 113.9h0M303.5 97.2h0M358.8 113.8h0M343.5 149.8h0M299.5 124.7h0M245.7 163h0M261.1 170.2h0M336.9 74.2h0M318.5 156.4h0M290.9 110.9h0M323.1 193.9h0M229.8 90.5h0M350.1 89h0" stroke="#10f812" stroke-width="4.0" stroke-linecap="round" fill="none"/>
</g></g>
<rect x="393.9" y="200.5" width="1.1" height="19" fill="#050805"/>
<rect x="349.7" y="200.5" width="44.2" height="19.0" fill="#fff"/>
<text x="357.3" y="213.6" font-size="8.8" fill="#111" textLength="27.4" lengthAdjust="spacingAndGlyphs">50 um</text>
<path d="M365.1 217.35H384.7" stroke="#111" stroke-width="1.7"/>
<g clip-path="url(#c2)"><rect x="402" y="75" width="170" height="145" fill="#030503"/><g filter="url(#soft)">
<path d="M477.3 162.9h0M495.7 77.9h0M528.1 128.6h0M481.6 219.8h0M561.9 209.3h0M467.3 121.9h0M549.8 228.8h0M458.7 100.3h0M459.9 166.3h0M425.2 125.7h0M451.7 70.3h0M496.8 207.4h0M464.2 175.2h0M451.7 99.8h0M437.2 126.6h0M564.2 136.2h0M571.6 160.5h0M561.4 138.9h0M550.4 97.3h0M470.6 75.6h0M464.7 152.5h0M566.5 127.3h0M553.4 146h0M552 221.4h0M467.4 190.7h0M557.3 168.8h0M499.1 137.6h0M569 166.6h0M454.7 93.1h0M482.1 208.8h0M531.2 122.4h0M514 136.8h0M406.9 126.4h0M477.2 211.4h0M483.9 102.7h0M463.9 89.2h0M570.8 125.4h0M572.6 89.5h0M558.2 184.6h0M574.7 131.4h0M523.9 169.9h0M533 127.2h0M553.2 153.6h0M517.4 99.5h0M541.9 171.8h0M521.8 146.5h0M559.2 116.7h0M551.1 80.6h0M556.9 100.7h0M447.1 167.3h0M463.9 107.2h0M545.4 182.7h0M503.8 85.1h0M533.1 98.9h0M525.5 188.2h0M532.8 131h0M533.4 163.2h0M566 142.7h0M550.6 125.5h0M475.2 172.9h0M469.9 177.3h0M505.2 209h0M552 197.8h0M543.9 219.2h0M496.4 194h0M487.9 192.3h0M566.3 184.5h0M561.5 164.6h0M501.9 203.6h0M500.6 119.5h0M447.4 217.2h0M455 171.1h0M472.5 127.7h0M467.3 201.8h0M424.1 184.5h0M577.8 83.9h0M513.2 175.7h0M507.5 152.7h0M534.9 155.9h0M501.6 198.1h0M556.1 195.6h0M476.6 158h0M518.3 126.7h0M424.4 159.8h0M450.8 181.2h0M549.9 86.3h0M431.8 184.3h0M460.3 186.4h0M539.4 121.6h0M532.4 179.9h0M546.4 169.6h0M413.1 185.4h0M458.3 206.8h0M444.2 153.2h0M471.7 80.9h0M523.7 86.6h0M551.3 134.1h0M549.9 168.1h0M506.8 112.7h0M492.7 189h0M522.2 126.8h0M517 93.7h0M561.2 98.9h0M481.7 105.9h0M555.1 219h0M532.3 169.7h0M498.1 91.3h0M455.8 146.5h0M439.5 150.4h0M507 202.1h0M554.4 207.7h0M488.5 113.2h0M426.7 150.7h0M515 179.2h0M495.1 110.1h0M530.7 186.9h0M578.5 137.5h0M524.6 129.9h0M534.6 201.5h0M567.4 88.7h0M538.8 176.7h0M545.3 141.2h0M553.8 93h0M478.8 119.2h0M523.4 199.8h0M544.1 188.2h0M451.6 85.8h0M536.1 146.4h0M418.4 129.3h0M503.3 180.5h0M471.5 137h0M567.7 123h0M533 176.2h0M461 80.3h0M509 158.9h0M543.2 116h0M527.3 218.9h0M403.8 145.5h0M489.1 97.9h0M483.7 121.1h0M465.9 76.4h0M542.3 126h0M550.4 158.8h0M542.1 197h0M425.3 139h0M559.4 125h0M437.3 179.2h0M548.3 121.7h0M550.9 205.8h0M429.5 131.2h0M537.4 132.7h0M556.6 162.2h0M550.4 224.9h0M535.2 135.7h0M510.4 200.1h0M560.1 106h0M490.1 77.9h0M528.9 193.1h0M539.2 186h0M489.7 148.6h0M512.5 131.6h0M540.9 161.4h0M415.3 174.3h0M424.6 94.6h0M564 170.5h0M558.8 188.3h0M530 77.9h0M464.5 181.7h0M557.4 95.3h0M504.2 90.4h0M558 209.2h0M508.1 206.1h0M488.7 103h0M556.8 176h0M479.2 188h0M545.5 158.7h0M514 217.6h0M540.9 155.8h0M522.9 182h0M445.1 179.4h0M491.1 152.2h0M559.1 198.2h0M494.1 179.6h0M563.9 203.5h0M417.3 146.5h0M460 86.6h0M563.5 124.8h0M569.9 112.5h0M539.7 191.6h0M466 210.3h0M449.7 115.1h0M436.2 190.5h0M559.8 109.9h0M406.4 212.8h0M424.7 194.2h0M488 87.2h0M547.5 94.6h0M467.2 206.6h0M458.3 130h0M521.2 79.5h0M553.5 169.7h0M460.6 176.3h0M455 72.4h0M411.5 179.7h0M478 153.1h0M455.4 185.2h0M486 152.1h0M459.5 212.3h0M529.1 212.9h0M528.1 88.8h0M501 124.3h0M530.3 152.4h0M525.7 97.2h0M435.3 138.5h0M545.8 126.6h0M502.8 74.1h0M499.4 152.2h0M466.8 80.3h0M534.9 206.9h0M569.8 96.1h0M564.7 191.5h0M473.1 115.1h0M565.3 180.8h0M524.9 109.8h0M555.7 141.6h0M551 141.9h0M549.5 117.9h0M574 127.6h0M428.4 106.9h0M582.2 138.5h0M501.9 108.7h0M409.5 80.1h0M554.3 97.6h0M459.6 218.1h0M523.1 100h0M550.7 182.3h0M558.4 215.8h0M566.7 197.8h0M457.2 159.6h0M471.2 91.8h0M406.6 179.3h0M475.7 109.6h0M522.1 206.3h0M448.1 140.2h0M519.2 151.7h0" stroke="#04d80c" stroke-width="3.7" stroke-linecap="round" fill="none"/>
<path d="M439.3 207h0M530.4 145.6h0M564.9 93.2h0M550.5 232.6h0M517.1 203.9h0M425.5 203.8h0M451.8 164.9h0M524.5 133.8h0M545.1 135.7h0M483.7 142.4h0M537.8 111.5h0M575.2 135.3h0M542.1 152.1h0M408.8 171.3h0M537 101.9h0M475.8 198.8h0M424.5 145.6h0M469.5 96.1h0M534.6 114.7h0M506.2 142.4h0M483.7 201.5h0M473.6 132.4h0M440.7 185.3h0M501.6 185.1h0M479.3 109.4h0M569.6 92h0M556.8 181h0M485.2 74.6h0M557.5 120.3h0M432.6 101.1h0M442.9 131h0M510.7 119.6h0M553.8 178.5h0M528.9 94.6h0M519.3 141.9h0M410.6 134.8h0M568.8 107.7h0M552.8 202.3h0M447.8 120.2h0M441.5 75.9h0M474.3 100.6h0M487.3 204.7h0M515.2 164.8h0M558.1 87.9h0M504.7 192.2h0M467.8 110.5h0M543.8 192h0M548.2 150.1h0M491.3 217.8h0M419.7 191.5h0M556.9 112.5h0M509.9 211.4h0M564.3 175.3h0M401 198.4h0M412.9 117.7h0M469.9 163.8h0M561.3 183h0M542.2 90.6h0M535.2 123.9h0M513 187.6h0M491.9 201.2h0M447 210h0M480.3 167.7h0M417.7 209h0M465.2 136.2h0M511.8 170.1h0M514.8 128.4h0M545.3 207.2h0M549.6 163.9h0M486.1 95.5h0M412.7 126.4h0M443.9 205.7h0M525.8 184.6h0M556 131.7h0M526.8 159.3h0M519.5 180.2h0M533.6 111.1h0M565.3 101.6h0M481.4 90.1h0M428 78.8h0M500 131.4h0M569.6 83.5h0M481.4 96.5h0M562.1 81.4h0M497.3 189.4h0M517.7 87h0M488.8 143.9h0M548.6 194.1h0M410.9 165.7h0M507.1 216.5h0M489.3 179.3h0M526.7 180.8h0M536.4 92.7h0M443.4 83.2h0M483.3 163.6h0M411.6 150.3h0M571.5 197.7h0M532.7 148.3h0M467 195h0M447.7 108.6h0M538.5 125.3h0M444.3 198.5h0" stroke="#0cf014" stroke-width="4.4" stroke-linecap="round" fill="none"/>
<path d="M539.8 147.1h0M446.7 126.1h0M539.8 202.6h0M514.1 155.4h0M569.8 174.6h0M485.7 215.2h0M495.4 138.9h0M527.6 105.8h0M489.8 163.6h0M429.2 163h0M533.2 119.1h0M472.1 154.5h0M448.6 135.6h0M540.4 106.6h0M457.7 75.2h0M412.8 218.6h0M435.7 201.9h0M503.3 158.7h0M417.2 153.7h0M575.7 87.2h0M529.9 161.6h0M472.6 184.2h0M549.2 173.5h0M561.7 195.3h0M568 74.6h0M416.6 204.1h0M504.3 116.7h0M468 172.7h0M529.5 177.9h0M531.6 82.9h0M516.8 194.4h0M501.7 145.3h0M503.3 151.8h0M513.4 102h0M491 159.1h0M491.5 126.6h0M450.7 76.8h0M495.6 151.4h0M556.5 201.1h0M558 149h0M407.2 198.5h0M532.1 142.2h0M526.3 139.1h0M561.2 152.7h0M506.1 195.8h0M500.3 164.4h0M440.7 201.8h0M521.9 116.3h0M499.2 215.7h0M561 93.8h0M464.3 117.8h0M540.4 143.2h0M412 110.9h0M468.9 104.2h0M513.9 158.9h0M463.2 124.3h0M438.1 131.7h0M401.5 216.9h0M537.3 84.1h0M560.8 146h0M537.1 140.7h0M569.2 137.1h0" stroke="#04a00a" stroke-width="2.8" stroke-linecap="round" fill="none"/>
<circle cx="455.9" cy="102.5" r="3.0" fill="#70100a" opacity=".38"/>
<circle cx="442.2" cy="152.8" r="3.5" fill="#70100a" opacity=".38"/>
<circle cx="557.6" cy="148.9" r="2.8" fill="#70100a" opacity=".38"/>
<circle cx="475.4" cy="207.1" r="2.5" fill="#70100a" opacity=".38"/>
<circle cx="436.5" cy="181.3" r="3.5" fill="#70100a" opacity=".38"/>
<circle cx="413.7" cy="112.8" r="4.0" fill="#70100a" opacity=".38"/>
<circle cx="524.5" cy="106.0" r="2.0" fill="#70100a" opacity=".38"/>
<circle cx="409.1" cy="198.5" r="2.0" fill="#70100a" opacity=".38"/>
<circle cx="567.8" cy="119.7" r="2.0" fill="#70100a" opacity=".38"/>
<circle cx="491.3" cy="123.8" r="2.0" fill="#70100a" opacity=".38"/>
<circle cx="413.0" cy="117.8" r="2.3" fill="#f01810"/>
<circle cx="501.2" cy="92.3" r="1.6" fill="#f01810"/>
<circle cx="510.8" cy="91.8" r="1.9" fill="#f01810"/>
<circle cx="519.4" cy="89.5" r="1.6" fill="#f01810"/>
<circle cx="499.8" cy="101.9" r="1.7" fill="#f01810"/>
<circle cx="538.6" cy="102.5" r="2.4" fill="#f01810"/>
<circle cx="517.6" cy="123.1" r="1.9" fill="#f01810"/>
<circle cx="452.5" cy="141.8" r="1.9" fill="#f01810"/>
<circle cx="526.3" cy="136.8" r="1.9" fill="#f01810"/>
<circle cx="464.6" cy="168.1" r="2.7" fill="#f01810"/>
<circle cx="480.4" cy="195.0" r="2.5" fill="#f01810"/>
<circle cx="487.9" cy="122.4" r="1.8" fill="#f01810"/>
<circle cx="542.7" cy="197.3" r="1.6" fill="#f01810"/>
<ellipse cx="524.0" cy="179.0" rx="3.6" ry="1.6" fill="#f01810" transform="rotate(-15 524.0 179.0)"/>
<circle cx="505.7" cy="164.7" r="1.2" fill="#e08010"/>
</g></g>
<rect x="526.5" y="217.6" width="44.5" height="1.2" fill="#1a1a1a"/>
<rect x="526.5" y="198.9" width="44.6" height="19.0" fill="#fff"/>
<text x="534.1" y="211.6" font-size="8.8" fill="#111" textLength="27.3" lengthAdjust="spacingAndGlyphs">50 um</text>
<path d="M542.1 216.25H561.4" stroke="#111" stroke-width="1.7"/>
<g clip-path="url(#c3)"><rect x="576" y="75" width="176" height="145" fill="#020d02"/><rect x="576" y="75" width="176" height="145" fill="url(#glow3)"/><g filter="url(#soft)">
<path d="M607.6 144.9h0M694.2 174.2h0M628.6 177.5h0M607.4 191.9h0M647.3 82.4h0M641.2 96.5h0M648 201.7h0M663.7 189.9h0M722.4 104.4h0M720.4 178.6h0M593.3 95.6h0M700.7 147.4h0M689.8 74.6h0M616.3 140.6h0M658.2 154.2h0M592.7 83.5h0M606.2 92.4h0M578 190.2h0M644 173.5h0M620 104.1h0M664.8 115.2h0M635.5 130.5h0M617.5 190.6h0M586.1 185.5h0M699.6 155h0M669.4 216.6h0M634.7 201.1h0M577.7 129.7h0M720.6 165.4h0M611 116h0M642.4 212.6h0M601.8 197.6h0M683.5 74.1h0M670.1 126.5h0M676.1 180.1h0M659.4 120.3h0M592.4 87h0M685.4 189.7h0M694.4 195.6h0M602.8 215.5h0M603.9 178h0M587.3 172.6h0M656.6 116.4h0M651.5 111.4h0M589.8 160.2h0M720.7 74.1h0M576.6 183.4h0M695.3 207.8h0M588.3 164.2h0M575.8 97.4h0M643.8 160h0M608.4 134.9h0M603 192h0M597.2 125.5h0M626.8 98.8h0M709 166.9h0M683 208.3h0M586 166.3h0M633.9 98.8h0M587.4 89.9h0M607.5 158.9h0M615.6 219.8h0M678.3 216.8h0M637.1 146.3h0M629.8 185h0M650.3 99.8h0M605.2 213.7h0M718.5 80.5h0M692.1 107.4h0M702.4 194.3h0M597.6 220.8h0M692.7 120.7h0M623.5 205.7h0M596.6 95.2h0M694.4 189.1h0M575.2 195.8h0M614.4 134.4h0M604.8 123.8h0M593.5 103.1h0M665.4 197.8h0M637.3 196.8h0M599.9 216.8h0M647.6 217.1h0M674.7 107.6h0M631.3 106h0M617.4 207.9h0M628.1 87.6h0M651.6 77h0M580.1 132.8h0M646.5 180h0M727.3 146.4h0M620.5 180.7h0M678.2 168.6h0M587.4 200.2h0M718.2 183.6h0M696.5 176.2h0M605.9 95.3h0M725.8 139.2h0M581.3 88.8h0M705.8 195.6h0M618.3 92h0M598.8 122.1h0M595.7 199.6h0M602.2 212.7h0M615.9 147.3h0M714.7 196.8h0M689.7 138.5h0M651.3 173.3h0M606.5 219.6h0M715.3 147.9h0M615 206.2h0M625 81.6h0M717.9 74.3h0M673.2 135.7h0M661.3 153.6h0M624.3 114.5h0M640.5 157.8h0M675.4 131.6h0M655.9 136.7h0M634.3 161.9h0M654.4 78.4h0M614.8 172.5h0M687.6 103.6h0M660.6 195.9h0M612.3 156.6h0M614.3 152.4h0M604 203.6h0M668.6 96.9h0M659.4 202.6h0M638.3 104h0M594.9 168.8h0M641.3 99h0M583.1 74.1h0M580.3 202.9h0M575.9 135.6h0M673.6 142.8h0M682.6 126.8h0M605 158.4h0M637.1 214.7h0M617.6 76.7h0M628.2 191.4h0M611.7 96.2h0M590.8 144.5h0M722.2 148h0M694.3 84h0M637 158h0M617.9 156.1h0M670.7 135.5h0M638.9 170.7h0M716.3 125.8h0M697.3 107.3h0M667.2 158.9h0M622.4 82.3h0M689.6 87.2h0M685.2 87.4h0M650 186.1h0M640 88.9h0M714.6 90.6h0M579.6 183.5h0M576.4 93h0M579 106.2h0M655.7 208.3h0M678.7 207.7h0M698.9 210.6h0M600.5 174.4h0M604.7 119.5h0M596.2 210.9h0M613.4 80h0M598.3 167.8h0M651.7 201.2h0M715.2 79.5h0M676.5 135.2h0M696.3 103.5h0M598.7 202.9h0M581.7 146.6h0M645.3 163.8h0M649.7 74.2h0M585.9 158.8h0M666 205.4h0M683 216h0M704.1 105.1h0M623.8 127.1h0M579 153.9h0M642 171.5h0M701.6 213.5h0M653.4 94.8h0M583 220.9h0M689.3 183.2h0M591.2 196.8h0M598.7 198.1h0M713 108.5h0M691.3 217.5h0M603.5 146h0M705.6 116.8h0M730.9 74.4h0M719.5 112.3h0M686.8 171.7h0M597.1 160.3h0M584 161.5h0M576.1 159.7h0M629.7 136.6h0M625.5 190.6h0M613 141.7h0M635.6 112.2h0M732.7 120.9h0M745.4 178.3h0M599.4 144.9h0M607.6 206.4h0M589.1 219.3h0M581.6 152.5h0M613.5 209.1h0M715.9 95.4h0M627.6 172.1h0M741.4 135.8h0M652.2 219.7h0M724.1 120.4h0M741.3 170h0M662.7 202.6h0M719.4 114.7h0M585.4 219.8h0M676.1 211.8h0M591.3 120.1h0M669.1 101.8h0M665.2 202.3h0M665.9 145.5h0M652.1 123.7h0M665.5 153.1h0M665.6 195.2h0M722.4 150.8h0M668.2 161.8h0M668.4 137.9h0M609.5 146.6h0M661.2 125.3h0M677.3 118.1h0M602.8 152h0M679 199.4h0M664.9 103.3h0M689.1 187.7h0M711.1 165.1h0M662 95.7h0M591.5 100.2h0M654 116.4h0M582.6 117.4h0M602 81.9h0M740.4 119.4h0M662.4 108.2h0M666.2 188.4h0M644.5 190.4h0M661.8 74.9h0" stroke="#038a08" stroke-width="2.3" stroke-linecap="round" fill="none"/>
<path d="M641.8 168.5h0M642.2 77.2h0M732.7 124.7h0M681 152.4h0M620.8 124.9h0M633 153.7h0M655.6 97.3h0M610.5 212.1h0M629 199.7h0M739.6 113.8h0M575.9 138.6h0M608.9 149.7h0M590.9 191h0M675.5 82.4h0M620 149h0M728.5 211.1h0M578.7 140.6h0M686.9 184.5h0M672.2 173.2h0M575.1 104.8h0M595.8 134.7h0M642.8 129.3h0M620.8 92.3h0M741.3 214.6h0M665.6 77h0M577.7 206.8h0M741.5 193.6h0M602.7 206.2h0M654.2 190h0M603.1 128.9h0M631.1 179.2h0M620.2 94.8h0M749.9 82.5h0M679.9 117.4h0M674 97.2h0M666.5 79.3h0M664.8 137.1h0M702 103.8h0M636.4 118.5h0M657.6 178.3h0M637.2 91.9h0M686.7 179.2h0M697.1 189.2h0M703.1 171.9h0M640.9 82.6h0M658.1 205.9h0M659.2 198.2h0M709.2 211h0M663.5 173.6h0M686.2 132.2h0M626.7 206.6h0M680.8 160.4h0M596.8 74.6h0M673.7 84.1h0M677.6 197.1h0M651.8 142.7h0M625.7 88.3h0M585.7 95.3h0M607.3 123.2h0M728.3 83.1h0M642 109.9h0M626 169.3h0M585 183.2h0M632.7 157.9h0M657.6 190.2h0M728.5 140.6h0M644.7 117.1h0M638.1 113.8h0M724.5 217.4h0M622.6 147.2h0M684.7 147.4h0M747.2 100.5h0M723.2 173.5h0M706.1 99.6h0M593.9 161.3h0M621 209.8h0M716.3 110.1h0M657.6 82.3h0M720 203.3h0M667 83.1h0M717.6 165.6h0M684.4 205.6h0M704.5 150.3h0M732.1 209.9h0M696.2 86.6h0M595.2 173.4h0M629.8 155.2h0M745.6 74.1h0M752.7 96.6h0M635 95.2h0M593.8 127.9h0M660.6 169.2h0M699.2 128.1h0M591.8 206.3h0M608.7 213.9h0M632.3 142.7h0M610.5 120.5h0M621.6 203.2h0M676.5 149.1h0M602.6 161.8h0M597.7 108.6h0M653.9 165.9h0M632.8 195.7h0M738.5 158h0M591.7 184.5h0M653 171h0M738 120.9h0M611.9 221h0M596.6 214.9h0M614.3 166.5h0M675.7 176.1h0M655.2 157.5h0M579.1 143.6h0M652.8 192.1h0M684.6 173.9h0M747.6 143.8h0M687.6 114h0M630.1 187.6h0M631.3 192.2h0M615 75.6h0M593.4 216.7h0M651.2 182.7h0M743.7 200.6h0M619.6 189h0M626.3 144h0M672.2 149.8h0M634.5 208.1h0M611.1 187.5h0M665.4 155.9h0M746.9 181.6h0M704.9 85.8h0M682.9 187.9h0M620.8 79.5h0M685.8 118.1h0M602.8 175.5h0M658.4 90.1h0M626.2 123.9h0M735.6 217.5h0M597.3 195.6h0M663 84.7h0M637.3 200.5h0M752.5 150.2h0M625.4 173.4h0M709.2 97.9h0M604.6 81.2h0M630 150.3h0M663.6 151.5h0M645.1 105.4h0M614.5 144.1h0M627 128.9h0M622.9 167.4h0M669.6 81.7h0M713.6 216.8h0M613.8 162.3h0M590.6 148.3h0M668.1 121.7h0M633.8 77.6h0M710.7 161.8h0M604.6 131.8h0M680.3 124.8h0M707.6 114.7h0M713.2 159.1h0M581.8 144h0M657.5 161.3h0M703.5 126.2h0M722.6 127.9h0M673.5 190.6h0M690.6 112.8h0M633.9 137h0M702.6 142.6h0M704.4 75.9h0M585.1 118.1h0M631.5 117.3h0M660.2 122.8h0M643.4 177.4h0M633.5 215.3h0M612.3 194.7h0M703.3 136.5h0M578.2 163.3h0M748 188.8h0M680.8 112.4h0M671.8 105.7h0M648.9 157.8h0M699.7 84.5h0M630.7 74h0M641.6 142h0M705.2 156.2h0M639.8 219.9h0M648.3 108.2h0M576.3 209.8h0M662.6 199.7h0M623 185.4h0M578.6 215.3h0M598.5 181.1h0M639.8 124.1h0M715.8 92.8h0M581.4 163.2h0M670.1 143.2h0M605 87.2h0M652.1 195.6h0M703 188.2h0M717.9 138.7h0M720.5 97.6h0M651.5 179.6h0M675.1 76.5h0M590.6 153.6h0M610.7 171.6h0M636.3 127.5h0M662.8 98.3h0M723.3 214.9h0M607.1 83.4h0M682 120.1h0M709.5 152.9h0M594.1 143.4h0M668.1 155.4h0M666.3 219.1h0M748.7 121.3h0M638.4 144.2h0M635.1 115.1h0M620.4 133.9h0M655 160.7h0M691.1 115.3h0M676.3 143.8h0M742.6 146.1h0M654.7 87.2h0M604.1 137.8h0M728.1 182h0M733.4 162h0M695.2 148.3h0M729 123.4h0M584.6 102.4h0M603.6 149.2h0M575.7 141.3h0M597.6 157.9h0M702 74.8h0M684.9 176.6h0M631.4 167.4h0M710.6 143h0M741.3 158.9h0M691.2 101.9h0M636.1 108.6h0M694.7 150.7h0M695.3 214.4h0M656.4 201.7h0M576.4 102.2h0M747.7 116.9h0M646.3 120.1h0M707.8 216.3h0M590.8 141.8h0M677.4 146.2h0M736.8 104.7h0M664 88.7h0M742 219h0M647.9 154.8h0M623.7 219.7h0M586.8 86.3h0M655.2 103.2h0M582 179.6h0M748.1 173.3h0M648.6 87.2h0M589 75.8h0M628.8 167.3h0M703.1 197.1h0M617.4 215.8h0M752.8 76.3h0M645.5 98.3h0M700.2 192.9h0M694.4 178.1h0M684.6 101.1h0M650.6 94.7h0M622.5 104.5h0M647.6 220.3h0M583.9 164.3h0M596.6 132.3h0M593.4 108h0M621.9 74.2h0M702 116.7h0M676.6 140.1h0M735.3 150.2h0M686.5 80h0M650.2 150.5h0M644.2 124.8h0M602.3 115.6h0M600.1 86.9h0M588.8 99.5h0M623.3 181.5h0M701.2 81.7h0M575.3 167.6h0M744.7 208.8h0M726.3 110.7h0M650.3 165.7h0M692.4 176.6h0M617.7 199.8h0M695.7 171.8h0M708.8 156h0M746.4 89.1h0M692.8 141.1h0M579.2 174.5h0M670 88.1h0M679.2 149.5h0M601.1 203.7h0M732.1 98.3h0M627.9 197.2h0M578 170.6h0M689.9 157.4h0M612.3 215.3h0M586.4 127.2h0M738.1 172.1h0M700.9 163.7h0M668.2 212.2h0M578.1 120.7h0M609.2 174.8h0M696.5 220.9h0M618 117.5h0M713.9 169.4h0M580.1 97.2h0M691.5 130.6h0M710 178.3h0M722.5 220.4h0M595.3 184.2h0M681.1 129.8h0M733.4 118.4h0M612.3 204.1h0M646.4 194.2h0M723.9 153.5h0M702 166.7h0M668 131.1h0M698.1 144.9h0M621.1 128.7h0M661.7 100.8h0M636.6 83.1h0M722.3 155.5h0M641.4 137.4h0M708 95.3h0M712.9 135.8h0M611.6 174.4h0M745.3 145.8h0M610.4 202h0M692.1 77.5h0M660.3 172.2h0M595.9 105.4h0M707.6 177.1h0M706.8 207.8h0M588.7 211.5h0M708.3 134.2h0M663.9 160.2h0M600.9 133.8h0M679.2 181h0M650.2 162.9h0M706.3 127.2h0M621.5 117.5h0M708.6 183.8h0M694.7 92.6h0M688.3 116.5h0M634.8 147.5h0M647.7 136.8h0M614 108.7h0M727.6 208.5h0M647.1 125.5h0M634.7 210.9h0M615.8 91.4h0M593.2 154.7h0M657.4 123.5h0M693.5 210h0M697.3 74.4h0M710.3 86.8h0M652.3 211.9h0M741.5 103.8h0M634 171.6h0M647.4 104.4h0M634.8 123.1h0M727.9 104.1h0M692.7 125.5h0M734.8 178.7h0M621.5 163.5h0M607.9 197.6h0M675.7 214.2h0M672.7 80.3h0M650.1 106.2h0M602 121h0M622.3 107.2h0M689.3 132.7h0M654 153h0M600.6 179h0M601.5 167.6h0M732.1 181.2h0M704.5 209.1h0M748.3 86.9h0M708.6 195.6h0M671.2 210.2h0M703.9 93h0M629 181.1h0M747.2 213.8h0M691.3 135.5h0M728.6 117.3h0M636 101.4h0M631.8 173.6h0M644.3 205.9h0M705.9 189.7h0M664.4 74.9h0M627.6 209.4h0M712.3 213.5h0M600.4 109.8h0M703.5 131.8h0M584.6 168.8h0M649.2 112.5h0M701 111.3h0M698.8 169.4h0M723 178.5h0M589.9 175.3h0M633.2 177.4h0M635.9 154.9h0M744.9 126.9h0M743.4 119.2h0M708.4 201.5h0M671.3 156.2h0M604.6 89.9h0M700.6 196.1h0M592.9 164.1h0M683.2 143.4h0M643 157.3h0M679.7 213.5h0M629.9 203.9h0M643.1 119.9h0M697.4 217.7h0M726.2 80.6h0M738.1 214.9h0M730.1 202h0M583.7 150.7h0M675.9 170.7h0M735.1 121.8h0M678.1 110.4h0M701.3 220.3h0M630 211.2h0M648.4 152.2h0M611.7 89.5h0M673.8 102.5h0M710.9 208.7h0M602.2 164.9h0M638.7 190.7h0M693.6 115.5h0M605.9 128.1h0M599.9 101.1h0M584.6 206.5h0M620.2 120.1h0M668.7 109.1h0M684.5 97.5h0M710.9 220.3h0M662.6 156.8h0M666.1 91.3h0M673.8 204h0M702.9 190.9h0M653.2 136.1h0M744.6 86.1h0M591.5 80.5h0M605 75.7h0M617.3 160h0M613.1 111.1h0M655.3 121.6h0M732 114.6h0M634.2 75h0M634.6 174.6h0M635.9 79.1h0M677.6 163.1h0M616.8 166.5h0M633.7 198.4h0M642.8 92.8h0M591 217.4h0M612.8 117.9h0M687.3 160.9h0M628.9 142.1h0M747.6 210.7h0M646.5 122.9h0M680.2 145.5h0M590.6 94.7h0M626.7 96.3h0M627.3 214.6h0M588 143h0M655.8 155h0M643.6 220.4h0M705.6 180.5h0M681 137.7h0M673.1 177.7h0M709.9 107.8h0M651.6 168h0M575.3 191.9h0M657.1 119.2h0M672.8 90.9h0M744.1 102.7h0M701.8 158.8h0M598 91.7h0M667.1 111.4h0M625.1 74.3h0M719.2 174.3h0M616.3 185.4h0M671 76.5h0M589.6 102.4h0M582.1 209.6h0M624.6 106.2h0M617.7 97h0M649 188.7h0M704.9 203.4h0M624.4 214.2h0M741.3 209.2h0M712.3 130.6h0M627.4 160.2h0M592.3 174.1h0M642.6 146.6h0M729.7 97.3h0M639.6 147.1h0M583 134.1h0M703.6 109.7h0M715.1 161.4h0M614.6 202.6h0M597.6 173.9h0M627.2 138.2h0M595.1 204.1h0M668.3 200.4h0M706.3 148h0M624.6 161.3h0M735.7 125.1h0M604.4 134.5h0M644.9 155.5h0M709.9 118.2h0M672.4 161h0M593.7 114.6h0M730.7 157h0M688.4 167.7h0M575 87.8h0M619 186.5h0M712.6 152.1h0M643.6 113.1h0M579.4 77.5h0M715 137.8h0M639.9 92.2h0M663 127.4h0M744.1 163.1h0M676.3 204.5h0M699.4 104.7h0M705 88.5h0M611.5 150.2h0M707.9 138.3h0M673.7 87.3h0M602 102.5h0M716.3 153.8h0M627.2 202.5h0M659.5 114.9h0M649.7 196.7h0M654.9 126.1h0M589.7 133.8h0M630.4 197.4h0M688.4 93.4h0M684.1 179.5h0M590.8 165.9h0M742.8 123.7h0M667.7 214.7h0M590.5 84.9h0M599.6 128.5h0M668.2 124.6h0M607.2 166.4h0M688.9 192h0M647.8 164.7h0M742.3 133.2h0M604.6 199.4h0M646.6 161.2h0M719.2 212.7h0M677.4 152.3h0M653.4 81.5h0M655.1 108h0M729.7 190.8h0M679.9 195.7h0M588.7 96.5h0M594 191.4h0M691.5 214.5h0M638.4 141h0M582.6 192.5h0M688.5 214.4h0M626.7 115.1h0M575.3 132.6h0M583.7 129.4h0M658.7 193.8h0M708.7 204.7h0M682 115.8h0M688.6 82.2h0M738.7 179.8h0M749.3 167.3h0M599.9 161.8h0M588.9 87.9h0M740.5 197.4h0M727.9 150.3h0M653.6 182h0M626.9 154.9h0M677.6 114h0M591.5 74.5h0M650.4 120.7h0M735 106.7h0M659.2 84.5h0M583.6 111.1h0M600.5 139.5h0M626.5 104h0M689 109.9h0M716.6 190.1h0M669.5 203.7h0M644.5 88.3h0M729.6 80.6h0M632.8 221h0M665.3 95.9h0M581.8 85.2h0M581.7 155.3h0M682.5 220.5h0M648.8 96.9h0M709 172.8h0M646.2 214.6h0M673 221h0M752.3 166.9h0M627.9 81.9h0M655.7 100.5h0M656.5 112.6h0M671.1 92.6h0M576.5 84.5h0M576.5 145.3h0M595.6 164.9h0M605.8 208.6h0M696 186.7h0M583.5 136.6h0M629.8 133.8h0M734.7 153.7h0M612.6 160h0M593.1 117.3h0M583.6 82.3h0M695.1 113.2h0M639.4 127.7h0M728.2 167.4h0M641.8 115.5h0M644 209.4h0M671.6 101h0M638.8 101h0M595.2 156.7h0M628.5 102.3h0M674.1 201.1h0M705.3 165.1h0M659.2 181.3h0M631.5 102h0M655.8 93.2h0M637.9 121.5h0M603.8 110.6h0M611.9 145.6h0M698.8 125.2h0M720.2 85.2h0M702.5 120.3h0M689.1 106.2h0M579.1 109.6h0M633.1 111.1h0M678.3 220.5h0M588.3 105.2h0M673.1 127.6h0M666.7 191h0M716.5 132.5h0M630.5 207.3h0M719.5 104.6h0M638.3 217.1h0M713.7 176.7h0M723.4 111.5h0M686.9 194.8h0M579 83.5h0M735.6 191h0M658.4 139.8h0M641.5 209.9h0M691.8 94h0M647 207.8h0M736.8 174.8h0M711 100.4h0M621.3 207.2h0M647.4 92.9h0M727.3 217.4h0M587.4 92.8h0M628.3 74.2h0M657.2 196h0M604.1 155.6h0M613.6 169.1h0M579.5 167.5h0M742.2 183h0M616.5 163h0M639.3 166.5h0M744.6 218.8h0M660.2 80.4h0M609.4 194.6h0M658.3 101h0M581.3 130.2h0M684.2 104.7h0M632.9 82.4h0M661.9 164.6h0M741.6 117.2h0M718.4 119.4h0M695 79.7h0M734.5 175.7h0M583.6 203.7h0M731.2 140.2h0M586.4 75.3h0M731.2 160h0M644.8 171h0M694.1 102h0M644.5 136.5h0M610.3 92.4h0M649.1 133.6h0M581.5 107.9h0M628.9 216.8h0M591.2 199.5h0M724.6 145.7h0M672.7 187.7h0M735.2 171.6h0M597.7 77.5h0M662 209h0M748.2 170.8h0M589.8 194.2h0M592.5 133.6h0M710.1 132.5h0M600.7 171.7h0M616.7 174.5h0M739 85.1h0M683.4 112h0M725.1 221h0M683.2 163.3h0M616.9 84.4h0M704.3 206.5h0M616 105h0M650 91.8h0M651.8 108.4h0M636.1 190.8h0M674.3 216.2h0M682.2 190.6h0M629.3 84h0M694.9 127.9h0M698.7 165.9h0M701.2 185.7h0M749.4 146.4h0M747.2 156.9h0M638.8 187.7h0M729.6 106.1h0M671.5 108.4h0M745.1 116.9h0M615 93.9h0M602.8 94.5h0M614.6 192.7h0M664.3 211.8h0M617.2 203h0M699.1 179.9h0M629.2 79.7h0M722.6 82.9h0M676.7 128.3h0M661.4 139h0M584.2 88.9h0M663.8 183.5h0M723.7 89.5h0M669 164.6h0M631.8 138.8h0M578.4 134.8h0M705.4 192.2h0M642.5 194.9h0M653.9 199.2h0M641.9 125.9h0M602.8 77.6h0M602.7 74.8h0M611.8 207h0M638.9 134.7h0M705.6 123.9h0M738.3 218.9h0M603.5 209.9h0M623.1 111.9h0M632.2 108.7h0M607.3 184.5h0M688.1 85.2h0M728.6 197h0M692.6 82.1h0M685.2 135.5h0M619.6 84.8h0M671.9 214.5h0M725.5 122.8h0M613.7 187.5h0M656.4 173h0M621.7 98.5h0M744.4 110.9h0M719.8 181.6h0M687.4 152.9h0M650.8 83.3h0M653.7 203.9h0M744.9 216.4h0M720.1 157.4h0M751 78.5h0M648.9 160.3h0M705.2 220.5h0M583 94.7h0M599 154.1h0M675.9 187.6h0M658.3 212h0M743.2 206.2h0M587.1 161.9h0M669.2 151.2h0M737 79.5h0M586.6 78.7h0M736 163.8h0M583.1 176.4h0M619.1 140.1h0M592.8 89.5h0M584.6 197.1h0M619.2 146.3h0M645.6 211.3h0M687.3 97.5h0M575.2 187.5h0M659 209.6h0M656.5 105.4h0M687.2 197.3h0M714.6 144.3h0M694.1 216.9h0M743.2 79.4h0M751.2 122.7h0M748.4 179h0M611.1 143.3h0M631 97.8h0M680.8 168.9h0M697 201.1h0M694.4 153.2h0M606.2 189h0M685.3 108.1h0M622.6 132.3h0M629 157.6h0M625.2 216.9h0M734.1 135.1h0M599.4 83.6h0M674.8 99.7h0M724 85.3h0M610.2 132.9h0M575.1 154.6h0M600 104.7h0M589.7 171.8h0M717.9 168.4h0M582.3 113.7h0M592.2 151.4h0M591.9 158.1h0M710.8 82.9h0" stroke="#06c00c" stroke-width="2.7" stroke-linecap="round" fill="none"/>
<path d="M621.1 183.1h0M724.1 93.3h0M681.2 92.9h0M647.2 74.3h0M659.1 128.8h0M718.3 87.3h0M668.1 169.8h0M711.9 90.9h0M668.5 117.9h0M688.5 76.8h0M601 147.2h0M690.8 179.9h0M675.2 137.4h0M739.8 191.7h0M663.3 130.4h0M725 103.8h0M718.7 206h0M643.4 140.1h0M604 140.3h0M721.6 101.6h0M720.1 140.3h0M749.4 155.6h0M666.8 86.9h0M721.8 193.9h0M619.4 204.9h0M727.2 120.4h0M662.7 122.3h0M669 189.4h0M645 127.4h0M705.2 173.3h0M684.8 199.9h0M697.6 137.8h0M724.9 182.2h0M677.3 89.2h0M751.4 137.5h0M746.5 198.8h0M684.3 83.4h0M707.5 120.1h0M704.3 114.7h0M603.4 171h0M741.1 99h0M661 211.4h0M695.3 158.9h0M739.7 176.3h0M609.6 156.9h0M746.4 203.3h0M696.5 179.9h0M614.4 89.2h0M688.7 120.6h0M711.8 114.2h0M726.3 213.1h0M739.4 110.5h0M752.7 142.2h0M657.5 95.1h0M622 173.8h0M690 203.6h0M745.9 138.9h0M731.3 103.4h0M669.2 85.5h0M609.9 74.7h0M658.8 157.6h0M621.5 102h0M663.5 180.5h0M747.7 113.7h0M665.9 173h0M722 161.1h0M667.9 207.6h0M742.8 175.4h0M603.6 142.8h0M715.8 202.6h0M714.4 164.1h0M607.9 131.3h0M638.7 94.7h0M663.5 93h0M691.9 117.9h0M607.9 89.8h0M593.8 180.6h0M752.5 188h0M736.9 193.8h0M733.7 183.7h0M686.1 75.4h0M685.8 111.5h0M752.3 139.8h0M671.4 194.5h0M584.3 77.4h0M690.7 89.5h0M669.9 186.7h0M651.6 97.5h0M676.1 92.8h0M611.8 77.7h0M701.8 86.2h0M700 172.1h0M724.3 96.7h0M749.6 101.5h0M733.3 109.2h0M658.9 108.6h0M701.6 169.9h0M712.8 88h0M617.2 182.5h0M752 106.7h0M743.9 77h0M600.4 78.6h0M620.4 200.1h0M679.3 142.2h0M723.9 108.9h0M707.4 163.2h0M594.1 81.4h0M659.3 185.1h0M684.5 155.5h0M672.4 197.9h0M688.1 219.1h0M739.4 124h0M752.3 87.7h0M716.9 104.9h0M746.5 168.1h0M746.4 92.9h0M665.8 127.3h0M652.7 185.5h0M623.5 171.7h0M726.8 153.4h0M700.3 136.8h0M705.2 134.1h0M679.4 202.6h0M734.5 202.1h0M678.3 160h0M646.7 132.9h0M700 131.2h0M711.9 190.5h0M680.9 75.2h0M715.5 171.5h0M617.6 128h0M653.8 176h0M649 205.1h0M622.8 177.3h0M703.1 78.3h0M700.8 95.4h0M640 78.5h0M643.7 166.6h0M691.5 189.3h0M724.9 207.9h0M671.5 124.4h0M637.4 209.8h0M632.4 131.2h0M732.3 177.3h0M736.9 109.9h0M738.1 126.2h0M703.8 81.4h0M732.3 107h0M575.2 198.9h0M717.7 192.4h0M708.4 100.9h0M616.4 153.6h0M675.6 194.3h0M600.2 185.4h0M713.9 132.8h0M685.2 167.6h0M638.4 110.8h0M594.8 178.4h0M662.3 113.4h0M732.7 79.3h0M678.7 81.6h0M609.4 204.3h0M645.4 102.7h0M717 112.5h0M678.8 103.7h0M672.2 95.2h0M636.6 106.1h0M613.2 212.9h0M590.6 188.3h0M690.9 173.7h0M656.4 182.8h0M589.7 91.1h0M716.1 101.3h0M722.1 94.8h0M734.1 146.6h0M688 90.4h0M614.7 131.2h0M684.3 121.6h0M712.3 171.8h0M617.9 171.6h0M659.9 166.2h0M732.6 198.6h0M739 195.5h0M625.3 178.7h0M684.4 124.3h0M729.6 169.7h0M749.1 207.9h0M746.2 151h0M633.5 134.2h0M602.6 113h0M690.1 196.9h0M671.9 152.5h0M708.1 181.2h0M714.4 112h0M676.1 95.8h0M681.7 103.3h0M656.8 217.1h0M670.9 179.5h0M612.4 105.9h0M708.5 188.3h0M706.5 110.4h0M599.6 142.2h0M734.4 140.5h0M687.7 211.3h0M653.1 75h0M743.9 159.9h0M707 186h0M619.5 173.8h0M745.4 184.7h0M678.9 91.6h0M637.2 220.9h0M641.1 191.5h0M645.8 77h0M646.9 149.6h0M725.9 210.5h0M752.2 134.6h0M714.1 208.5h0M633.7 205.5h0M686.2 202.5h0M649.1 199.3h0M725.7 151.3h0M649.5 209.4h0M689.8 143.4h0M668.7 194.9h0M705 138.8h0M588.6 183.4h0M732.2 170.9h0M713.5 98.2h0M712.1 147.9h0M720 149.3h0M619.8 216.8h0M681.1 84.7h0M606.3 162.7h0M672.9 74.7h0M727.2 142.7h0M701.8 208.5h0M692.2 87.4h0M682 212.2h0M722.8 142h0M699.3 198.5h0M660.9 117.7h0M720.1 127.5h0M702.5 129.1h0M696.5 156h0M647.1 100.8h0M632.7 145.8h0M731 83.2h0M641.8 103.5h0M713 155.2h0M638.8 98.1h0M750.3 174.9h0M581 197.8h0M699.3 133.8h0M680.3 77.7h0M670.1 148h0M674.1 148.2h0M709.3 140.7h0M696.4 131.2h0M751.4 157.7h0M657.4 165.8h0M610 140.9h0M736.9 83.8h0M707.9 76.5h0M652.6 90.6h0M692.7 204.3h0M660.1 174.8h0M725.3 176.4h0M610.3 81.2h0M717.4 98h0M674.3 111.6h0M743.6 107.1h0M618.9 212.5h0M736.1 113.9h0M598 136.4h0M745.4 129.6h0M600.2 193.7h0M594.1 213.8h0M717.7 159.8h0M665.2 208h0M674 139.6h0M740.9 78.2h0M680.9 157.4h0M682.2 200.4h0M743.5 138h0M702 199.6h0M748.3 185h0M684 182.7h0M697.2 184.3h0M682.6 108.3h0M647.9 139.7h0M691 211.8h0M663.4 219.8h0M689.9 161.3h0M613.7 176.4h0M670.9 166.5h0M623.9 84.8h0M734.6 143.6h0M691.6 220.5h0M645.1 218.2h0M739.5 211.1h0M728.3 220.1h0M661.1 179.3h0M690.4 80h0M637.5 152.7h0M737.1 182.6h0M688.9 205.8h0M696.5 193h0M608.8 79.1h0M647 89.8h0M716.5 121.1h0M697.3 90.7h0M742.9 179h0M599.7 96.7h0M706 102.8h0M745.9 124h0M628 194.7h0M747.5 84.3h0M641 131.4h0M724 203.6h0M632.9 119.8h0M648.4 142.9h0M733 100.7h0M715.9 88.5h0M727.5 137h0M636 135.3h0M682.5 132.1h0M661 183.2h0M738.6 96.3h0M724.9 188h0M713.4 211h0M695.5 205.3h0M745.8 135.9h0M607.3 142.3h0M722.1 86.9h0M714.4 166.6h0M743.9 83h0M608.6 103.7h0M716.2 114.9h0M682.1 165.8h0M716.1 151.2h0M592.9 176.6h0M608.2 171.8h0M729.9 147.9h0M619.2 122.9h0M735.9 159.1h0M608.8 97.7h0M738.9 81.6h0M703.8 146.9h0M684.4 211.3h0M666.4 149.6h0M732.1 143.9h0M725.2 148.1h0M740.7 87.4h0M729.2 109.2h0M735.2 132.7h0M668.3 179.4h0M668.6 93.1h0M696.9 98.7h0M698.2 149h0M724 100.6h0M605.9 147.2h0M652.6 104.4h0M738.6 188.4h0M737 169.5h0M685.2 213.8h0M601.9 181.3h0M721.3 167.9h0M637.7 74.4h0M751.3 153h0M729.7 172.5h0M716 187h0M665.1 178h0M595.7 112.1h0M654.1 163h0M741.9 111.4h0M749 134.5h0M687 144.8h0M696.9 81.4h0M623.2 95h0M677.5 75.6h0M616.3 188.1h0M671.5 145.4h0M682.5 99.6h0M722.7 78.8h0M584.3 142.3h0M701.9 90.3h0M688.4 135.3h0M732.8 213h0M702.6 101.1h0M696.2 125.2h0M713.2 187.9h0M625.3 210.3h0M739.6 161.5h0M741.9 74.8h0M640.6 173.6h0M712.3 94h0M720.6 198.7h0M709.6 136.4h0M685.5 127.1h0M740.8 138.6h0M619.4 106.6h0M718.7 91.8h0M639 84.3h0M716.1 76.4h0M678 190h0M715.8 141.3h0M694.6 135.3h0M618.9 100.3h0M718.1 201.3h0M717.9 134.9h0M746.2 192.9h0M732.9 206.3h0M736.8 186h0M699.5 175.8h0M679.6 210.7h0M741.2 141.5h0M715.6 175h0M665.9 181.7h0M726.3 86.1h0M634.5 89.1h0M729.9 142.7h0M746.7 206.3h0M720.2 146.7h0M701.7 150.1h0M609.7 162.2h0M659.9 161h0M719.1 196.7h0M659.6 219h0M677.4 99.1h0M705.6 183.3h0M660.1 214.3h0M681.9 203h0M582.8 173.1h0M729.8 163.1h0M709.2 89.9h0M662.6 171.1h0M670.2 130h0M632.5 187.7h0M725.1 162.9h0M678.5 172.1h0M575.1 77.9h0M665.3 100.7h0M595.4 118.2h0M730 125.7h0M715 84.4h0M669.3 219.6h0M717.6 144.9h0M682.2 171.2h0M703.4 96.6h0M650.3 216.7h0M629.5 99.9h0M727.8 174.5h0M687.8 156.2h0M713.7 149.9h0M648.8 180.9h0M739.2 165.1h0M751.4 160.7h0M710 215h0M646.3 185.5h0M728.4 133.3h0M588 140.3h0M625.7 183.3h0M648.7 211.9h0M684.6 218.1h0M675.9 218.2h0M644.3 144h0M747.7 81h0M742.2 127.1h0M726.4 97.9h0M752.5 101.1h0M701.7 174.3h0M655.9 213.8h0M636.3 97.6h0M739.2 106.6h0M752.8 195.6h0M660.2 188h0M712.5 120.3h0M747.2 176.6h0M659.9 111.3h0M732.4 152h0M607.7 154.7h0M692.7 74.4h0M725.9 170.3h0M686.7 149.4h0M744.1 171.9h0M667.8 135.3h0M680.7 106.1h0M690.4 141h0M694.5 201h0M717.8 219.3h0M639.7 154.8h0M651.2 155.7h0M638.6 137.2h0M644 85.6h0M719.8 190.5h0M731.9 91.5h0M737.2 143h0M643.8 187.9h0M715.1 118.2h0M650.3 115.3h0M585.4 174.2h0M750.3 149.1h0M749.9 197h0M674.8 152.9h0M710.8 181.4h0M606.8 202.6h0M636.9 173.9h0M752.3 81.2h0M732.6 149.1h0M597.6 217.6h0M741.1 94.2h0M741.5 202.9h0M707.7 80.2h0M670.6 171.1h0M671.4 116.5h0M596.7 115h0M614.2 82.7h0M723.8 165.7h0M733.6 83.7h0M738.9 74.2h0M678.1 133.3h0M726.8 191.6h0M732.2 85.9h0M609.3 209.4h0M720.3 117.7h0M686.7 216.3h0M686.5 141h0M693.6 191.5h0M736.7 147.3h0M749.2 158.9h0M718.6 101.6h0M746.7 141.4h0M607.9 216.8h0M662.9 146.6h0M721.4 170.7h0M692.5 146.1h0M734.7 103.3h0M753 179.9h0M706.8 171.3h0M672.7 218.2h0M669.6 79.2h0M649.5 125h0M709.7 129.2h0M636.9 206.8h0M697.7 111.5h0M700.1 203.1h0M623.4 76.4h0M735.1 167.8h0M681.5 218h0M725.6 83h0M737.1 212.5h0M722.4 211.2h0M651.6 206.2h0M681.2 140.6h0M633.4 183.7h0M608.4 94h0M695.3 76.3h0M635.4 218.1h0M707.8 131.4h0M667.8 141.8h0M719.9 124.6h0M665.1 132.3h0M673.9 184.2h0M717.4 156h0M641.1 203.7h0M655.7 219.5h0M679.1 86.4h0M725.3 125.6h0M730.3 175.5h0M711.6 78h0M710.2 217.4h0M698 215.1h0M696.1 165.9h0M719.4 209.1h0M659.2 98.1h0M641.3 164.1h0M723.5 185.2h0M616.5 169h0M691.1 84.9h0M722.3 206.9h0M733.1 112.2h0M690 123.2h0M697.1 84.2h0M630 114.4h0M735.3 220.1h0M666.7 165.9h0M749.6 212.5h0M721.1 137.4h0M578.9 186.1h0M647 84.9h0M743.1 156.2h0M692.2 183.2h0M625.8 132h0M681.6 181.5h0M722.6 139.4h0M746.3 106.3h0M707.6 84.4h0M637.7 125.4h0M743.9 148.5h0M700.1 77h0M617.2 144.4h0M681.6 147.9h0M741.3 82.4h0M751.1 98.9h0M598.6 165.4h0M738.4 136.2h0M697.5 78.1h0M590.6 110.2h0M656 193h0M655.9 141.1h0M695.6 139.8h0M697.5 195.9h0M646.9 198h0M710.1 149.8h0M736.2 207.4h0M739.2 131.6h0M619.5 197.3h0M696.6 163.3h0M733.1 165h0M728 199.5h0M646.1 145.9h0M652.4 119h0M683.5 197.1h0M750.5 104.6h0M731 218.6h0M691.2 167.4h0M630.5 171.2h0M739.9 216.8h0M683 94.5h0M606.6 100h0M738.9 128.7h0M698.1 159h0M746.5 109.2h0M752.9 125.9h0M601.4 201.2h0M735.6 87.8h0M745.7 154.5h0M748.6 161.9h0M722.5 125.3h0M670.3 139.8h0M712.4 139h0M679.1 121.1h0M745.2 188.2h0M725.5 179.4h0M750 142.3h0M739.9 182h0M700 100.5h0M711.6 111.4h0M699.7 161.5h0M618.1 177.8h0M736.9 130.2h0M594.9 218.8h0M752.1 111.9h0M730 78.1h0M699.8 182.7h0M748.3 97.5h0M592.3 168.8h0M742.8 89.9h0M684.2 151.7h0M675.2 208.9h0M751.4 109.1h0M677.8 157.6h0M659.5 150.6h0M719.5 94.5h0M614.8 158.2h0M704.1 175.9h0M616.3 212.1h0M694.3 144.1h0M672.3 181.8h0M628.8 122.3h0M624.2 137.8h0M587.8 149.9h0M628.2 164.2h0M717.2 82.9h0M742.2 129.8h0M586.4 193.2h0M747.1 220.5h0M722.2 180.9h0M630.8 76.7h0M642.8 107.6h0M601.5 136.3h0M607.2 181.8h0M733.7 74.4h0M669.6 184.2h0M752.3 119.7h0M676.6 124.8h0M701.2 139.7h0M706 143.9h0M622.2 87.4h0M715.7 183.9h0M747.8 195.1h0M698.3 152.3h0M674.1 145.3h0M739.3 201.8h0M666.3 185.4h0M737.7 100h0M663.6 134.3h0M667.5 75.2h0M597.4 85.6h0M747.3 131.7h0M702.1 113.6h0M688.3 164h0M697.9 173.6h0M697.4 142.2h0M714.5 81.9h0M752.2 184.9h0M750.7 164h0M651.3 139.6h0M691.4 149.6h0M727.8 76.2h0M731.9 185.3h0M748.7 152.4h0M710.8 74.2h0M705.2 168h0M656.6 199h0M638.1 194.3h0M728 159.9h0M658.6 125.8h0M743.9 190.6h0M713.2 142.1h0M641.5 150.6h0M686.3 187.3h0M647.6 174.9h0M691.5 193.7h0M631.5 87.7h0M709.7 103.5h0M668.2 128.6h0M663 79.6h0M683.4 90.4h0M677.2 101.6h0M651.6 79.6h0M628.6 174.6h0M729.3 113h0M750 85h0M720.6 89.5h0M717.5 216.7h0M615.5 116h0M726.3 165.6h0M689.4 127.4h0M736.9 197.3h0M743.4 92.4h0M720.6 120.6h0M752.5 173.5h0M637.2 149h0M651.4 189.9h0M669.7 175.9h0M650.1 103.3h0M633.8 127.6h0M670 132.9h0M747.9 127.5h0M640.6 112.8h0M725.8 114h0M680.3 100.9h0M741.9 185.8h0M708.5 146.6h0M689.9 96.5h0M618.5 89.1h0M724.3 159.1h0M679.5 127.8h0M734.3 116h0M692.3 155.4h0M628.9 116.9h0M634.8 186.3h0M664.4 81.6h0M701.2 216.5h0M602.2 123.8h0M730.6 130.4h0M653.5 145.7h0M664.8 164.1h0M632.5 148.7h0M717.6 177.6h0M649 76.7h0M739.2 154.9h0M680.3 192.8h0M736.1 92.5h0M734.5 210.8h0M743.7 168.4h0M661.3 105.1h0M699.7 114.6h0M751.4 94.5h0M693.8 163.1h0M693.3 185.6h0M652.6 101.4h0M744.5 113.8h0M697.3 212.5h0M689.6 169.9h0M709 198.3h0M695 168.9h0M583.7 98.1h0M649.1 80.6h0M749.6 182.8h0M734.2 94.9h0M665.3 109h0M729.1 193.3h0M707 151.1h0M631.3 214h0M729.8 154.6h0M750.3 125.3h0M653.5 112.8h0M577.6 176.5h0M722.9 122.7h0M706 212.6h0M707.7 220.3h0M731.2 128h0M675.4 166.1h0M662.6 167.2h0M740.5 206h0M737.5 117.3h0M735.8 137.4h0M689.2 200.3h0M747.9 104.3h0M712.5 117.1h0M679.2 165.8h0M657.5 170h0M646.3 182.8h0M692.5 171.5h0M700.3 188.5h0M605.2 78.5h0M632.4 115h0M680 188.6h0M741.3 163.6h0M722.2 188.2h0M642.9 101.1h0M650.2 146.1h0M593 202.8h0M724.4 192.3h0M751.6 74h0M748.1 165.1h0M751.7 91.6h0M671.8 200.3h0M752.5 176.6h0M704.3 216.5h0M719.7 108h0M637.8 86.6h0M749.9 205.4h0M665.9 123.5h0M713.4 106h0M713.7 201.2h0M639.1 116.4h0M641.7 134.4h0M726.4 185h0M738 204.2h0M617.5 149.7h0M660 135.3h0M666.1 175.7h0M668.7 173h0M716.1 199.4h0M656 75.8h0M713.2 179.7h0M732.4 155.1h0M749.2 110.8h0M708.9 122.6h0M727.2 106.6h0M616.1 101.3h0M672.9 131.1h0M744.2 143.4h0M696.9 134.4h0M710.2 158.2h0M734 128.1h0M719.3 162.9h0M643.5 81.4h0M577.9 199.2h0M694.7 181.9h0M632.4 202.7h0M639.7 207h0M746.6 77.5h0M690.8 208.9h0M664 118.8h0M639.4 213.2h0M730 207.4h0M734.9 195.9h0M674.9 161.7h0M610.6 100.2h0M737.1 200.4h0M647.5 115h0M583.4 123.6h0M719.1 186h0M722.3 175.9h0M727.8 188.1h0M733.3 157.7h0M594.3 137h0M627.2 218.8h0M649.7 176.4h0M623.8 79.2h0M729.1 185.6h0M671 120.4h0M702.2 124h0M644.4 149.1h0M714.8 192.4h0M640.3 86.5h0M739.5 151h0M732.8 192.7h0M719.9 153.3h0M713.8 128.5h0M701.9 206h0M646.3 167.4h0M625.1 198.2h0M703.9 153.8h0M662.3 217.3h0M733.1 173.6h0M700.5 145h0M644.6 74.8h0M700.8 108.8h0M618 79.2h0M694 137.8h0M694.1 132.4h0M698.8 88.1h0M691.5 98.7h0M728.4 91.9h0M687.7 124.3h0M694 109.3h0M731.4 132.9h0M703.3 178.3h0M750.6 193.6h0M612.2 199.6h0M663.6 186.3h0M743.9 94.8h0M742.4 166.2h0M679.9 97.6h0M724.7 74.8h0M679.6 177.2h0M626.2 118h0M660.3 131.6h0M613.4 218h0M739.5 148.3h0M598.9 118.7h0M628.3 126.3h0M713 183h0M638.1 130.3h0M576.2 172.9h0M599.3 75.5h0M711.4 186.2h0M701.6 152.5h0M736.9 76.8h0M731.2 187.9h0M599.6 213h0M711.5 203h0M730.9 94.5h0M696.7 94.4h0M671.4 206.4h0M684.8 138.6h0M750.6 116.7h0M711.9 125.4h0M731.9 195h0M730.4 214.5h0M616.6 179.8h0M752.3 210.3h0M640.3 108h0M665.1 215.6h0M726.6 194.7h0M742 188.5h0M716.5 212.3h0M656.2 175.7h0M618.2 74h0M702.1 181.2h0M732 167.4h0M743.1 153h0M633.3 181.1h0M685.2 92.2h0M706 160.2h0M716.8 181.3h0M751.2 171.3h0M712.8 206.1h0M752.9 215.5h0M645.2 130.2h0M752.3 114.9h0M671.5 97.6h0M721.9 132.2h0M752.5 203.5h0M717.5 128.5h0M741.3 172.6h0M735.4 98.2h0M654.1 168.6h0M729.9 120.4h0M668.3 146.2h0M618.1 132.8h0M633.5 104.3h0M629.9 119.5h0M735.5 188.4h0M654.2 216.8h0M711.5 198.5h0M634.7 142.3h0M749.4 76.2h0M744.2 97.6h0M683.7 185.2h0M726.1 130.9h0M662.1 176.9h0M679.3 155.3h0M607.6 113h0M726.2 156h0M751.2 128.6h0M660.9 142.1h0M706.5 91.6h0M687 100.1h0M738.4 91.3h0M647.1 191.7h0M751.7 131.9h0M654.8 150.4h0M709.3 110.3h0M724.4 117.6h0M712.6 85.5h0M719.3 77.3h0M607 211h0M703.2 161.9h0M646.9 110.6h0M593.7 93h0M674 118h0M733.7 130.6h0M738.2 140.5h0M723.9 134.8h0M750 191.1h0M718.7 171.9h0M693.4 105h0M596.2 102.5h0M726.6 205h0M622.1 153.8h0M744 194.9h0M683.5 158.2h0M749.2 138.9h0M722.6 115.2h0M630.3 219.1h0" stroke="#12ee1a" stroke-width="3.0" stroke-linecap="round" fill="none"/>
<path d="M631 123.4h0M623 123.2h0M672.2 164.4h0M720.3 130.2h0M681.4 206.3h0M683.9 193.7h0M677.2 192.3h0M601.4 189h0M598.6 206.1h0M641 186.8h0M609 118.5h0M746 121.5h0M658.6 103.9h0M576.2 113h0M639.7 119.4h0M713.3 194.6h0M714.5 220.7h0M709.7 170.5h0M727.4 88.3h0M675.7 79h0M634.7 84.7h0M592.5 220.8h0M636.4 177h0M624.1 202.3h0M747.9 95h0M705.5 79.2h0M673.4 170.3h0M620 115.5h0M674 155.5h0M652.1 148.7h0M729.6 178.6h0M699.8 92.4h0M664.8 106.6h0M747.6 148.6h0M752.1 206.7h0M599.5 93.8h0M721.3 183.9h0M721.9 144.4h0M661.5 205.6h0M726 201.1h0M748.9 89.8h0M690.8 164.5h0M612.2 191.5h0M684 129.2h0M705 119.9h0M680.9 88.8h0M602.3 91.3h0M641.5 121.8h0M610.6 111.4h0M596.9 142.7h0M658.7 75.4h0M678.9 185.4h0M630.8 126.8h0M609.2 218.9h0M649.8 191.8h0M707.3 107.4h0M674.3 159.1h0M668.6 197.9h0M727.9 100.4h0M733.4 76.9h0M716.6 207.9h0M687.3 207.7h0M586.4 138.2h0M709.1 192.7h0M677.3 108h0M730 87.8h0M622.3 188.6h0M687.9 147.1h0M670.1 113.9h0M637.2 163.2h0M710.7 175h0M605.3 217h0M676.8 201.2h0M576 203.6h0M662.7 194.5h0M705 200h0M641.8 215.4h0M720 82.4h0M752.7 84.5h0M752.1 145.4h0M699.4 206.9h0M671.3 83.7h0M712.5 122.9h0M652 133.2h0M607.5 137.5h0M688 176.2h0M691.6 159.3h0M645.8 203.3h0M596.2 97.8h0M730.7 136.4h0M597 189.1h0M590.6 106.2h0M752.8 200.1h0M594 146.4h0M723.6 197.9h0M622.1 144h0M689.7 153.9h0M744.9 211.4h0" stroke="#10e818" stroke-width="3.9" stroke-linecap="round" fill="none"/>
</g></g>
<rect x="705.5" y="216.5" width="45.5" height="1.6" fill="#0a0a0a"/><rect x="749.8" y="205" width="1.2" height="13" fill="#0a0a0a"/>
<rect x="705.5" y="197.4" width="44.5" height="19.5" fill="#fff"/>
<text x="713.3" y="210.6" font-size="8.8" fill="#111" textLength="27.3" lengthAdjust="spacingAndGlyphs">50 um</text>
<path d="M721.1 214.2H740.8" stroke="#111" stroke-width="1.7"/>
</g>
<g id="left">
<defs><linearGradient id="rulerV" x1="0" x2="0" y1="0" y2="1"><stop offset="0" stop-color="#7e7e7c"/><stop offset=".55" stop-color="#8c8c8a"/><stop offset=".8" stop-color="#bdbcb3"/><stop offset="1" stop-color="#ebe8da"/></linearGradient><linearGradient id="rulerH" x1="0" x2="1" y1="0" y2="0"><stop offset="0" stop-color="#808080"/><stop offset=".5" stop-color="#6c6c6a"/><stop offset="1" stop-color="#7c7c7a"/></linearGradient><filter id="grain" x="0" y="0" width="100%" height="100%" color-interpolation-filters="sRGB"><feTurbulence type="fractalNoise" baseFrequency=".32" numOctaves="3" seed="3"/><feColorMatrix values="0 0 0 0 .2  0 0 0 0 .2  0 0 0 0 .2  1.25 0 0 0 -.52"/><feComposite in2="SourceGraphic" operator="in"/></filter><filter id="grainL" x="0" y="0" width="100%" height="100%" color-interpolation-filters="sRGB"><feTurbulence type="fractalNoise" baseFrequency=".28" numOctaves="3" seed="5"/><feColorMatrix values="0 0 0 0 .85  0 0 0 0 .85  0 0 0 0 .83  0 1.5 0 0 -.68"/><feComposite in2="SourceGraphic" operator="in"/></filter><filter id="weave" x="0" y="0" width="100%" height="100%" color-interpolation-filters="sRGB"><feTurbulence type="fractalNoise" baseFrequency=".8" numOctaves="2" seed="8"/><feColorMatrix values="0 0 0 0 .48  0 0 0 0 .36  0 0 0 0 .10  1.5 0 0 0 -.6"/><feComposite in2="SourceGraphic" operator="in"/></filter><filter id="weaveL" x="0" y="0" width="100%" height="100%" color-interpolation-filters="sRGB"><feTurbulence type="fractalNoise" baseFrequency=".7" numOctaves="2" seed="21"/><feColorMatrix values="0 0 0 0 .9  0 0 0 0 .85  0 0 0 0 .55  0 1.5 0 0 -.7"/><feComposite in2="SourceGraphic" operator="in"/></filter></defs>
<text x="50.7" y="265.1" font-size="14.3" fill="#111" font-weight="bold">c</text>
<text x="68.4" y="265.1" font-size="10.1" fill="#151515" textLength="126.8" lengthAdjust="spacingAndGlyphs">Preparation of Kevlar/SSG</text>
<text x="42.2" y="295.2" font-size="8.7" fill="#151515" textLength="69.0" lengthAdjust="spacingAndGlyphs">Kevlar fiber mesh</text>
<text x="124.2" y="295.2" font-size="8.7" fill="#151515" textLength="108.2" lengthAdjust="spacingAndGlyphs">Pr-PDMS and TTIP mixture</text>
<text x="280.6" y="296.0" font-size="8.7" fill="#151515" textLength="89.0" lengthAdjust="spacingAndGlyphs">Kevlar/SSG composite</text>
<text x="254.6" y="311.2" font-size="8.4" fill="#151515" textLength="26.0" lengthAdjust="spacingAndGlyphs">2 days</text>
<text x="254.6" y="322.5" font-size="8.4" fill="#151515" textLength="34.5" lengthAdjust="spacingAndGlyphs">in the air</text>
<text x="87.3" y="374.0" font-size="6.6" fill="#151515" textLength="41.5" lengthAdjust="spacingAndGlyphs">PTFE mode</text>
<path d="M126.2 319.9L132.8 314.3L150 317.4L143.2 322.6Z" fill="#d3d6da"/>
<path d="M126.2 319.9L132.8 314.3L141 315.8L134.2 321.2Z" fill="#e6ebf4"/>
<path d="M200.7 320.3L229.3 314.1L245.9 324L217.9 330.7Z" fill="#c6a22c"/>
<path d="M200.7 320.3L229.3 314.1L245.9 324L217.9 330.7Z" fill="#c6a22c" filter="url(#weave)" opacity=".55"/>
<path d="M200.7 320.3L217.9 330.7L245.9 324" fill="none" stroke="#8f7a28" stroke-width=".5"/>
<text x="53.0" y="390.0" font-size="14.3" fill="#111" font-weight="bold">d</text>
<text x="218.9" y="391.1" font-size="15" fill="#111" font-weight="bold">e</text>
<g id="chart-d">
<clipPath id="cd"><rect x="75.3" y="407.2" width="109.2" height="91.2"/></clipPath>
<g clip-path="url(#cd)">
<path d="M75.3 498.4 L78.1 496.9 L80.5 495.5 L83 493.5 L86.2 489.3 L89.1 486.1 L91.1 483.9 L92.6 482.9 L93.6 484.6 L94.6 486.6 L96.5 482.4 L99 478.7 L101.5 477 L103.9 476.2 L105.9 475.5 L108.4 472.8 L111.3 470.8 L113.8 470.8 L116.2 470.1 L119.2 467.1 L122.4 465.2 L126.1 463.9 L131 463.4 L134.7 463.2 L138.4 463.4 L142.1 464.2 L145.8 465.2 L149.5 466.6 L153.2 468.4 L156.9 470.3 L160.6 472.1 L163.1 473.8 L165.5 475 L167.3 479.2 L169.2 483.6 L171.2 484.9 L172.9 486.8 L174.9 487.3 L176.6 489.1 L178.6 489.3 L180.3 489.1" fill="none" stroke="#c8691a" stroke-width="1.15" stroke-linejoin="round"/>
<path d="M75.3 498.4 L79.3 497.7 L83 496.5 L87.2 494.5 L91.6 492.3 L96.5 489.6 L101.5 486.1 L106.4 480.9 L111.3 475 L115 469.3 L118.7 463.9 L123.6 456.5 L128.6 449.1 L132.3 443.5 L136 438.1 L138.4 432.4 L140.9 427 L142.1 425.5 L143.4 425.2 L144.8 425.7 L145.8 427 L147.8 432.4 L149.5 439.3 L151.2 447.9 L153.2 455.3 L155.2 459.5 L158.1 462.2 L160.6 463.2 L163.1 462.7 L164.8 460.7 L167 461.5 L169.2 462.2 L171.7 463.9 L174.2 465.2 L175.6 463.7 L177.1 463.4 L178.6 463.9 L179.6 464.7 L181.3 468.4 L182.8 472.6 L184.5 477.5" fill="none" stroke="#4f9a2e" stroke-width="1.15" stroke-linejoin="round"/>
<path d="M75.3 498.4 L79.3 497.4 L83 496 L87.2 493.5 L91.6 489.8 L94.6 488.6 L97.8 486.1 L101.5 483.6 L103.9 482.9 L106.9 480.2 L111.3 477.5 L115 476.2 L118.7 473.8 L121.7 474 L124.9 473.3 L128.6 472.6 L130.5 471.3 L132.3 470.6 L134 471.6 L136 473.8 L138.4 477 L140.9 481.2 L143.4 483.6 L145.8 485.6 L149.5 486.8 L151.2 485.9 L152.5 485.1 L154.4 486.4 L158.1 489.3 L161.3 491.5 L164.3 493.5 L167 495.2 L169.2 496" fill="none" stroke="#111" stroke-width="1.35" stroke-linejoin="round"/>
</g>
<rect x="75.3" y="407.2" width="109.2" height="91.2" fill="none" stroke="#888" stroke-width=".5"/>
<text x="72.9" y="500.3" font-size="5.3" text-anchor="end" fill="#333">0</text>
<text x="72.9" y="483.9" font-size="5.3" text-anchor="end" fill="#333">500</text>
<text x="72.9" y="467.5" font-size="5.3" text-anchor="end" fill="#333">1000</text>
<text x="72.9" y="451.1" font-size="5.3" text-anchor="end" fill="#333">1500</text>
<text x="72.9" y="434.7" font-size="5.3" text-anchor="end" fill="#333">2000</text>
<text x="72.9" y="418.3" font-size="5.3" text-anchor="end" fill="#333">2500</text>
<text x="75.3" y="505.0" font-size="5.3" text-anchor="middle" fill="#333">0</text>
<text x="92.8" y="505.0" font-size="5.3" text-anchor="middle" fill="#333">1</text>
<text x="110.2" y="505.0" font-size="5.3" text-anchor="middle" fill="#333">2</text>
<text x="127.6" y="505.0" font-size="5.3" text-anchor="middle" fill="#333">3</text>
<text x="145.1" y="505.0" font-size="5.3" text-anchor="middle" fill="#333">4</text>
<text x="162.6" y="505.0" font-size="5.3" text-anchor="middle" fill="#333">5</text>
<text x="180.0" y="505.0" font-size="5.3" text-anchor="middle" fill="#333">6</text>
<path d="M75.3 498.4h-1.8M75.3 482.0h-1.8M75.3 465.6h-1.8M75.3 449.2h-1.8M75.3 432.8h-1.8M75.3 416.4h-1.8M75.3 498.4v1.8M92.8 498.4v1.8M110.2 498.4v1.8M127.6 498.4v1.8M145.1 498.4v1.8M162.6 498.4v1.8M180.0 498.4v1.8" stroke="#555" stroke-width=".45"/>
<text x="131.0" y="512.6" font-size="4.9" text-anchor="middle" fill="#333" textLength="24.5" lengthAdjust="spacingAndGlyphs">Time(ms)</text>
<text x="58.0" y="451.0" font-size="4.9" text-anchor="middle" fill="#333" textLength="23.0" lengthAdjust="spacingAndGlyphs" transform="rotate(-90 58.0 451.0)">Force(N)</text>
<path d="M79.3 411.2H88.4" stroke="#111" stroke-width=".9"/>
<text x="89.9" y="412.6" font-size="4.4" fill="#333" textLength="23.0" lengthAdjust="spacingAndGlyphs">Neat Kevlar</text>
<path d="M79.3 418.6H88.4" stroke="#4f9a2e" stroke-width=".9"/>
<text x="89.9" y="420.0" font-size="4.4" fill="#4f9a2e" textLength="43.5" lengthAdjust="spacingAndGlyphs">Kevlar/PTS composite</text>
<path d="M79.3 426.5H88.4" stroke="#c8691a" stroke-width=".9"/>
<text x="89.9" y="427.9" font-size="4.4" fill="#c8691a" textLength="44.0" lengthAdjust="spacingAndGlyphs">Kevlar/PBS composite</text>
</g>
<g id="chart-e">
<clipPath id="ce"><rect x="252.4" y="405.5" width="105.1" height="93.2"/></clipPath>
<g clip-path="url(#ce)">
<path d="M253.4 497.2 L254.6 497 L255.8 496.9 L257.1 496.8 L258.3 496.6 L259.5 496.5 L260.7 496.3 L261.9 496.2 L263.2 496 L264.4 495.8 L265.6 495.6 L266.8 495.4 L268 495.1 L269.3 494.8 L270.5 494.4 L271.7 494.1 L272.9 493.7 L274.1 493.3 L275.4 492.9 L276.6 492.5 L277.8 492 L279 491.5 L280.2 491 L281.5 490.5 L282.7 489.9 L283.9 489.3 L285.1 488.7 L286.3 488.1 L287.6 487.4 L288.8 486.7 L290 486 L291.2 485.3 L292.4 484.5 L293.7 483.7 L294.9 482.9 L296.1 482.2 L297.3 481.5 L298.5 480.8 L299.8 480.2 L301 479.5 L302.2 478.9 L303.4 478.2 L304.6 477.6 L305.9 476.9 L307.1 476.2 L308.3 475.5 L309.5 474.8 L310.7 474.2 L312 473.6 L313.2 473.1 L314.4 472.7 L315.6 472.2 L316.8 471.8 L318.1 471.4 L319.3 471 L320.5 470.6 L321.7 470.3 L322.9 469.9 L324.2 469.6 L325.4 469.3 L326.6 469.1 L327.8 468.8 L329 468.7 L330.3 468.5 L331.5 468.3 L332.7 468.2 L333.9 468.1 L335.1 468 L336.4 468 L337.6 468 L338.8 467.9 L340 467.9 L341.2 467.9 L342.5 467.9 L343.7 467.9 L344.9 467.9 L346.1 467.9 L347.3 467.9 L348.6 467.9 L349.8 467.9 L351 467.9 L352.2 467.9 L353.4 467.9 L354.7 467.9 L355.9 467.9" fill="none" stroke="#c8c8c8" stroke-width="2.2" stroke-linejoin="round" opacity=".6"/>
<path d="M253.4 497.2h0M254.6 497h0M255.8 496.9h0M257.1 496.8h0M258.3 496.6h0M259.5 496.5h0M260.7 496.3h0M261.9 496.2h0M263.2 496h0M264.4 495.8h0M265.6 495.6h0M266.8 495.4h0M268 495.1h0M269.3 494.8h0M270.5 494.4h0M271.7 494.1h0M272.9 493.7h0M274.1 493.3h0M275.4 492.9h0M276.6 492.5h0M277.8 492h0M279 491.5h0M280.2 491h0M281.5 490.5h0M282.7 489.9h0M283.9 489.3h0M285.1 488.7h0M286.3 488.1h0M287.6 487.4h0M288.8 486.7h0M290 486h0M291.2 485.3h0M292.4 484.5h0M293.7 483.7h0M294.9 482.9h0M296.1 482.2h0M297.3 481.5h0M298.5 480.8h0M299.8 480.2h0M301 479.5h0M302.2 478.9h0M303.4 478.2h0M304.6 477.6h0M305.9 476.9h0M307.1 476.2h0M308.3 475.5h0M309.5 474.8h0M310.7 474.2h0M312 473.6h0M313.2 473.1h0M314.4 472.7h0M315.6 472.2h0M316.8 471.8h0M318.1 471.4h0M319.3 471h0M320.5 470.6h0M321.7 470.3h0M322.9 469.9h0M324.2 469.6h0M325.4 469.3h0M326.6 469.1h0M327.8 468.8h0M329 468.7h0M330.3 468.5h0M331.5 468.3h0M332.7 468.2h0M333.9 468.1h0M335.1 468h0M336.4 468h0M337.6 468h0M338.8 467.9h0M340 467.9h0M341.2 467.9h0M342.5 467.9h0M343.7 467.9h0M344.9 467.9h0M346.1 467.9h0M347.3 467.9h0M348.6 467.9h0M349.8 467.9h0M351 467.9h0M352.2 467.9h0M353.4 467.9h0M354.7 467.9h0M355.9 467.9h0" stroke="#2a2a2a" stroke-width="1.5" stroke-linecap="round" fill="none"/>
<path d="M253.4 497.2 L254.6 497 L255.8 496.8 L257.1 496.7 L258.3 496.5 L259.5 496.3 L260.7 496.2 L261.9 496 L263.2 495.8 L264.4 495.5 L265.6 495.3 L266.8 495 L268 494.7 L269.3 494.3 L270.5 493.9 L271.7 493.5 L272.9 493.1 L274.1 492.7 L275.4 492.2 L276.6 491.7 L277.8 491.2 L279 490.6 L280.2 490.1 L281.5 489.5 L282.7 488.9 L283.9 488.2 L285.1 487.6 L286.3 486.9 L287.6 486.2 L288.8 485.5 L290 484.8 L291.2 484.1 L292.4 483.3 L293.7 482.6 L294.9 481.8 L296.1 481.1 L297.3 480.4 L298.5 479.7 L299.8 479 L301 478.3 L302.2 477.5 L303.4 476.8 L304.6 475.9 L305.9 475 L307.1 474 L308.3 473 L309.5 471.9 L310.7 470.9 L312 470 L313.2 469.1 L314.4 468.2 L315.6 467.4 L316.8 466.5 L318.1 465.7 L319.3 464.9 L320.5 464.1 L321.7 463.2 L322.9 462.4 L324.2 461.6 L325.4 460.9 L326.6 460.2 L327.8 459.5 L329 458.9 L330.3 458.3 L331.5 457.8 L332.7 457.3 L333.9 456.9 L335.1 456.4 L336.4 455.9 L337.6 455.5 L338.8 455.2 L340 455 L341.2 454.8 L342.5 454.6 L343.7 454.4 L344.9 454.3 L346.1 454.3 L347.3 454.3 L348.6 454.2 L349.8 454.2 L351 454.2 L352.2 454.2" fill="none" stroke="#f3d9b0" stroke-width="2.2" stroke-linejoin="round" opacity=".6"/>
<path d="M253.4 497.2h0M254.6 497h0M255.8 496.8h0M257.1 496.7h0M258.3 496.5h0M259.5 496.3h0M260.7 496.2h0M261.9 496h0M263.2 495.8h0M264.4 495.5h0M265.6 495.3h0M266.8 495h0M268 494.7h0M269.3 494.3h0M270.5 493.9h0M271.7 493.5h0M272.9 493.1h0M274.1 492.7h0M275.4 492.2h0M276.6 491.7h0M277.8 491.2h0M279 490.6h0M280.2 490.1h0M281.5 489.5h0M282.7 488.9h0M283.9 488.2h0M285.1 487.6h0M286.3 486.9h0M287.6 486.2h0M288.8 485.5h0M290 484.8h0M291.2 484.1h0M292.4 483.3h0M293.7 482.6h0M294.9 481.8h0M296.1 481.1h0M297.3 480.4h0M298.5 479.7h0M299.8 479h0M301 478.3h0M302.2 477.5h0M303.4 476.8h0M304.6 475.9h0M305.9 475h0M307.1 474h0M308.3 473h0M309.5 471.9h0M310.7 470.9h0M312 470h0M313.2 469.1h0M314.4 468.2h0M315.6 467.4h0M316.8 466.5h0M318.1 465.7h0M319.3 464.9h0M320.5 464.1h0M321.7 463.2h0M322.9 462.4h0M324.2 461.6h0M325.4 460.9h0M326.6 460.2h0M327.8 459.5h0M329 458.9h0M330.3 458.3h0M331.5 457.8h0M332.7 457.3h0M333.9 456.9h0M335.1 456.4h0M336.4 455.9h0M337.6 455.5h0M338.8 455.2h0M340 455h0M341.2 454.8h0M342.5 454.6h0M343.7 454.4h0M344.9 454.3h0M346.1 454.3h0M347.3 454.3h0M348.6 454.2h0M349.8 454.2h0M351 454.2h0M352.2 454.2h0" stroke="#cf7a22" stroke-width="1.5" stroke-linecap="round" fill="none"/>
<path d="M253.4 497.2 L254.6 497.1 L255.8 497.1 L257.1 497 L258.3 497 L259.5 496.9 L260.7 496.9 L261.9 496.8 L263.2 496.7 L264.4 496.7 L265.6 496.6 L266.8 496.4 L268 496.2 L269.3 496 L270.5 495.8 L271.7 495.5 L272.9 495.2 L274.1 495 L275.4 494.6 L276.6 494.3 L277.8 493.9 L279 493.5 L280.2 493.1 L281.5 492.7 L282.7 492.2 L283.9 491.7 L285.1 491.2 L286.3 490.6 L287.6 490 L288.8 489.4 L290 488.7 L291.2 488 L292.4 487.2 L293.7 486.4 L294.9 485.5 L296.1 484.7 L297.3 483.8 L298.5 482.9 L299.8 482 L301 481 L302.2 480 L303.4 478.9 L304.6 477.8 L305.9 476.6 L307.1 475.4 L308.3 474.2 L309.5 472.9 L310.7 471.4 L312 469.9 L313.2 468 L314.4 465.9 L315.6 463.7 L316.8 461.6 L318.1 459.5 L319.3 457.4 L320.5 455.5 L321.7 453.7 L322.9 452.1 L324.2 450.6 L325.4 449.3 L326.6 448.1 L327.8 447 L329 446 L330.3 445.1 L331.5 444.2 L332.7 443.3 L333.9 442.4 L335.1 441.6 L336.4 440.8 L337.6 440 L338.8 439.2 L340 438.4 L341.2 437.6 L342.5 436.9 L343.7 436.1 L344.9 435.3 L346.1 434.5 L347.3 433.7 L348.6 432.9 L349.8 432.2 L351 431.6 L352.2 431 L353.4 430.4 L354.7 429.8 L355.9 429.3" fill="none" stroke="#d4ecc6" stroke-width="2.2" stroke-linejoin="round" opacity=".6"/>
<path d="M253.4 497.2h0M254.6 497.1h0M255.8 497.1h0M257.1 497h0M258.3 497h0M259.5 496.9h0M260.7 496.9h0M261.9 496.8h0M263.2 496.7h0M264.4 496.7h0M265.6 496.6h0M266.8 496.4h0M268 496.2h0M269.3 496h0M270.5 495.8h0M271.7 495.5h0M272.9 495.2h0M274.1 495h0M275.4 494.6h0M276.6 494.3h0M277.8 493.9h0M279 493.5h0M280.2 493.1h0M281.5 492.7h0M282.7 492.2h0M283.9 491.7h0M285.1 491.2h0M286.3 490.6h0M287.6 490h0M288.8 489.4h0M290 488.7h0M291.2 488h0M292.4 487.2h0M293.7 486.4h0M294.9 485.5h0M296.1 484.7h0M297.3 483.8h0M298.5 482.9h0M299.8 482h0M301 481h0M302.2 480h0M303.4 478.9h0M304.6 477.8h0M305.9 476.6h0M307.1 475.4h0M308.3 474.2h0M309.5 472.9h0M310.7 471.4h0M312 469.9h0M313.2 468h0M314.4 465.9h0M315.6 463.7h0M316.8 461.6h0M318.1 459.5h0M319.3 457.4h0M320.5 455.5h0M321.7 453.7h0M322.9 452.1h0M324.2 450.6h0M325.4 449.3h0M326.6 448.1h0M327.8 447h0M329 446h0M330.3 445.1h0M331.5 444.2h0M332.7 443.3h0M333.9 442.4h0M335.1 441.6h0M336.4 440.8h0M337.6 440h0M338.8 439.2h0M340 438.4h0M341.2 437.6h0M342.5 436.9h0M343.7 436.1h0M344.9 435.3h0M346.1 434.5h0M347.3 433.7h0M348.6 432.9h0M349.8 432.2h0M351 431.6h0M352.2 431h0M353.4 430.4h0M354.7 429.8h0M355.9 429.3h0" stroke="#4fa02e" stroke-width="1.5" stroke-linecap="round" fill="none"/>
</g>
<rect x="253.4" y="405.5" width="103.5" height="91.7" fill="none" stroke="#888" stroke-width=".5"/>
<text x="250.9" y="499.1" font-size="5.3" text-anchor="end" fill="#333">0</text>
<text x="250.9" y="472.7" font-size="5.3" text-anchor="end" fill="#333">2</text>
<text x="250.9" y="446.2" font-size="5.3" text-anchor="end" fill="#333">4</text>
<text x="250.9" y="419.8" font-size="5.3" text-anchor="end" fill="#333">6</text>
<text x="253.4" y="503.8" font-size="5.3" text-anchor="middle" fill="#333">0</text>
<text x="269.9" y="503.8" font-size="5.3" text-anchor="middle" fill="#333">1</text>
<text x="286.4" y="503.8" font-size="5.3" text-anchor="middle" fill="#333">2</text>
<text x="302.9" y="503.8" font-size="5.3" text-anchor="middle" fill="#333">3</text>
<text x="319.4" y="503.8" font-size="5.3" text-anchor="middle" fill="#333">4</text>
<text x="335.9" y="503.8" font-size="5.3" text-anchor="middle" fill="#333">5</text>
<text x="352.4" y="503.8" font-size="5.3" text-anchor="middle" fill="#333">6</text>
<path d="M253.4 497.2h-1.8M253.4 470.8h-1.8M253.4 444.3h-1.8M253.4 417.9h-1.8M253.4 484.0h-1M253.4 457.5h-1M253.4 431.1h-1M253.4 497.2v1.8M269.9 497.2v1.8M286.4 497.2v1.8M302.9 497.2v1.8M319.4 497.2v1.8M335.9 497.2v1.8M352.4 497.2v1.8" stroke="#555" stroke-width=".45"/>
<text x="304.4" y="511.0" font-size="4.7" text-anchor="middle" fill="#333" textLength="24.5" lengthAdjust="spacingAndGlyphs">Time (ms)</text>
<text x="243.6" y="453.6" font-size="4.4" text-anchor="middle" fill="#333" textLength="48.5" lengthAdjust="spacingAndGlyphs" transform="rotate(-90 243.6 453.6)">Energy dissipation (J)</text>
<circle cx="258.5" cy="409.2" r=".9" fill="#222"/>
<text x="263.5" y="410.6" font-size="4.4" fill="#333" textLength="23.0" lengthAdjust="spacingAndGlyphs">Neat Kevlar</text>
<circle cx="258.5" cy="417.1" r=".9" fill="#4fa02e"/>
<text x="263.5" y="418.5" font-size="4.4" fill="#4fa02e" textLength="43.0" lengthAdjust="spacingAndGlyphs">Kevlar/PTS composite</text>
<circle cx="258.5" cy="424.5" r=".9" fill="#cf7a22"/>
<text x="263.5" y="425.9" font-size="4.4" fill="#cf7a22" textLength="43.0" lengthAdjust="spacingAndGlyphs">Kevlar/PBS composite</text>
</g>
<text x="50.0" y="536.1" font-size="14.3" fill="#111" font-weight="bold">f</text>
<text x="218.9" y="531.6" font-size="14.3" fill="#111" font-weight="bold">g</text>
<g id="photo-f">
<rect x="59.1" y="573.0" width="12.8" height="43.7" fill="url(#rulerV)"/>
<rect x="59.1" y="573.0" width="150.9" height="5.3" fill="url(#rulerH)"/>
<rect x="59.1" y="573.0" width="150.9" height="5.3" fill="#333" filter="url(#grain)"/>
<rect x="59.1" y="573.0" width="150.9" height="5.3" fill="#333" filter="url(#grainL)" opacity=".7"/>
<rect x="59.1" y="573.0" width="12.8" height="43.7" fill="#333" filter="url(#grain)"/>
<rect x="59.1" y="573.0" width="12.8" height="43.7" fill="#333" filter="url(#grainL)" opacity=".8"/>
<path d="M71.4 578.0V616.7" stroke="#0e3565" stroke-width="1.5" fill="none"/><path d="M70.4 578.4H210.0" stroke="#123a6c" stroke-width="1.3" fill="none"/>
<rect x="72.6" y="578.3" width="44.1" height="20.2" fill="#c4b052"/>
<rect x="72.6" y="578.3" width="44.1" height="20.2" fill="#c4b052" filter="url(#weave)"/>
<rect x="72.6" y="578.3" width="44.1" height="20.2" fill="#c4b052" filter="url(#weaveL)" opacity=".8"/>
<rect x="119.4" y="578.3" width="43.8" height="20.4" fill="#b89d38"/>
<rect x="119.4" y="578.3" width="43.8" height="20.4" fill="#b89d38" filter="url(#weave)"/>
<rect x="119.4" y="578.3" width="43.8" height="20.4" fill="#b89d38" filter="url(#weaveL)" opacity=".8"/>
<rect x="166.2" y="578.3" width="43.8" height="20.4" fill="#bfa23a"/>
<rect x="166.2" y="578.3" width="43.8" height="20.4" fill="#bfa23a" filter="url(#weave)"/>
<rect x="166.2" y="578.3" width="43.8" height="20.4" fill="#bfa23a" filter="url(#weaveL)" opacity=".8"/>
</g>
<g id="photo-g">
<rect x="234.3" y="573.3" width="12.9" height="45.5" fill="url(#rulerV)"/>
<rect x="234.3" y="573.3" width="148.3" height="5.3" fill="url(#rulerH)"/>
<rect x="234.3" y="573.3" width="148.3" height="5.3" fill="#333" filter="url(#grain)"/>
<rect x="234.3" y="573.3" width="148.3" height="5.3" fill="#333" filter="url(#grainL)" opacity=".7"/>
<rect x="234.3" y="573.3" width="12.9" height="45.5" fill="#333" filter="url(#grain)"/>
<rect x="234.3" y="573.3" width="12.9" height="45.5" fill="#333" filter="url(#grainL)" opacity=".8"/>
<path d="M246.4 578.3V618.8" stroke="#0e3565" stroke-width="1.9" fill="none"/><path d="M245.3 578.7H382.6" stroke="#123a6c" stroke-width="1.3" fill="none"/>
<rect x="247.3" y="579.4" width="42.4" height="18.5" fill="#b8a650"/>
<rect x="247.3" y="579.4" width="42.4" height="18.5" fill="#b8a650" filter="url(#weave)"/>
<rect x="247.3" y="579.4" width="42.4" height="18.5" fill="#b8a650" filter="url(#weaveL)" opacity=".8"/>
<rect x="292.0" y="579.2" width="44.6" height="19.4" fill="#b5a34c"/>
<rect x="292.0" y="579.2" width="44.6" height="19.4" fill="#b5a34c" filter="url(#weave)"/>
<rect x="292.0" y="579.2" width="44.6" height="19.4" fill="#b5a34c" filter="url(#weaveL)" opacity=".8"/>
<rect x="338.3" y="579.2" width="41.9" height="18.6" fill="#c2a878"/>
<rect x="338.3" y="579.2" width="41.9" height="18.6" fill="#c2a878" filter="url(#weave)"/>
<rect x="338.3" y="579.2" width="41.9" height="18.6" fill="#c2a878" filter="url(#weaveL)" opacity=".8"/>
</g>
<circle cx="266.1" cy="588.3" r=".9" fill="#4a4a3a"/><circle cx="266.1" cy="588.3" r="1.8" fill="#8a8240" opacity=".5"/>
<ellipse cx="318" cy="589.5" rx="13" ry="3.2" fill="#f2efdc" opacity=".32" transform="rotate(-6 318 589.5)"/><ellipse cx="326" cy="594.5" rx="8" ry="1.6" fill="#f6f3e6" opacity=".4"/><ellipse cx="306" cy="583.5" rx="7" ry="1.4" fill="#efecd8" opacity=".3"/>
<ellipse cx="359" cy="588" rx="16" ry="5" fill="#d9c3a6" opacity=".35"/>
<text x="69.8" y="612.7" font-size="8.9" fill="#151515" textLength="45.6" lengthAdjust="spacingAndGlyphs">Neat Kevlar</text>
<text x="118.4" y="612.7" font-size="8.9" fill="#5f9a3c" textLength="44.1" lengthAdjust="spacingAndGlyphs">Kevlar/PTS</text>
<text x="168.1" y="612.7" font-size="8.9" fill="#c88a2c" textLength="45.6" lengthAdjust="spacingAndGlyphs">Kevlar/PBS</text>
<text x="87.6" y="629.0" font-size="9.4" fill="#151515" textLength="74.0" lengthAdjust="spacingAndGlyphs">Before impaction</text>
<text x="250.0" y="611.6" font-size="8.9" fill="#151515" textLength="46.4" lengthAdjust="spacingAndGlyphs">Neat Kevlar</text>
<text x="301.3" y="611.6" font-size="8.9" fill="#5f9a3c" textLength="44.4" lengthAdjust="spacingAndGlyphs">Kevlar/PTS</text>
<text x="349.4" y="611.6" font-size="8.9" fill="#c88a2c" textLength="45.1" lengthAdjust="spacingAndGlyphs">Kevlar/PBS</text>
<text x="277.2" y="629.0" font-size="9.4" fill="#151515" textLength="66.0" lengthAdjust="spacingAndGlyphs">After impaction</text>
</g>
<g id="right">
<text x="417.7" y="262.0" font-size="14.3" fill="#111" font-weight="bold">h</text>
<text x="436.6" y="262.6" font-size="10.3" fill="#151515" textLength="213.0" lengthAdjust="spacingAndGlyphs">Preparation of the PTS-based device sensor</text>
<text x="426.0" y="276.9" font-size="8.7" fill="#151515" textLength="17.2" lengthAdjust="spacingAndGlyphs">CNT</text>
<text x="473.7" y="274.6" font-size="8.7" fill="#151515" textLength="18.5" lengthAdjust="spacingAndGlyphs">TTIP</text>
<text x="525.0" y="298.7" font-size="8.7" fill="#151515" textLength="27.6" lengthAdjust="spacingAndGlyphs">C-SSG</text>
<text x="584.6" y="274.0" font-size="8.7" fill="#151515" textLength="42.0" lengthAdjust="spacingAndGlyphs">Delta 2750</text>
<text x="584.6" y="284.6" font-size="8.7" fill="#151515" textLength="40.8" lengthAdjust="spacingAndGlyphs">Pt catalyst</text>
<text x="584.6" y="295.6" font-size="8.7" fill="#151515" textLength="18.0" lengthAdjust="spacingAndGlyphs">MAA</text>
<text x="653.5" y="280.0" font-size="8.7" fill="#151515" textLength="25.4" lengthAdjust="spacingAndGlyphs">PHMS</text>
<text x="683.4" y="281.4" font-size="8.7" fill="#151515" textLength="67.5" lengthAdjust="spacingAndGlyphs">PDMS elastomer</text>
<text x="683.4" y="291.6" font-size="8.7" fill="#151515" textLength="37.2" lengthAdjust="spacingAndGlyphs">precursor</text>
<text x="478.7" y="338.8" font-size="8.7" fill="#151515" textLength="38.0" lengthAdjust="spacingAndGlyphs">Pr-PDMS</text>
<text x="525.0" y="353.9" font-size="8.7" fill="#151515" textLength="23.8" lengthAdjust="spacingAndGlyphs">Mixed</text>
<text x="649.4" y="347.9" font-size="8.7" fill="#151515" textLength="35.5" lengthAdjust="spacingAndGlyphs">Vi-PMVS</text>
<text x="447.5" y="375.5" font-size="8.7" fill="#151515" textLength="25.5" lengthAdjust="spacingAndGlyphs">PDMS</text>
<text x="518.0" y="375.5" font-size="8.7" fill="#151515" textLength="40.9" lengthAdjust="spacingAndGlyphs">CNT-SSG</text>
<text x="599.3" y="375.5" font-size="8.7" fill="#151515" textLength="25.6" lengthAdjust="spacingAndGlyphs">PDMS</text>
<text x="475.9" y="406.6" font-size="8.7" fill="#2b52cc" textLength="25.1" lengthAdjust="spacingAndGlyphs">30min</text>
<text x="476.5" y="417.6" font-size="8.7" fill="#2b52cc" textLength="26.6" lengthAdjust="spacingAndGlyphs">120 °C</text>
<text x="546.0" y="406.0" font-size="8.7" fill="#2b52cc" textLength="26.6" lengthAdjust="spacingAndGlyphs">2 days</text>
<text x="541.9" y="415.9" font-size="8.7" fill="#2b52cc" textLength="34.2" lengthAdjust="spacingAndGlyphs">in the air</text>
<text x="617.0" y="409.1" font-size="8.7" fill="#2b52cc" textLength="24.9" lengthAdjust="spacingAndGlyphs">30min</text>
<text x="615.9" y="419.1" font-size="8.7" fill="#2b52cc" textLength="27.4" lengthAdjust="spacingAndGlyphs">120 °C</text>
<text x="647.1" y="393.1" font-size="8.7" fill="#151515" textLength="54.9" lengthAdjust="spacingAndGlyphs">Cross-section</text>
<text x="647.1" y="403.3" font-size="8.7" fill="#151515" textLength="17.0" lengthAdjust="spacingAndGlyphs">view</text>
<text x="699.4" y="400.8" font-size="8.7" fill="#151515" textLength="34.8" lengthAdjust="spacingAndGlyphs">Top view</text>
<path d="M468.5 297.3L478 284" stroke="#c3c5cd" stroke-width="1.3" stroke-linecap="round"/>
<path d="M477.6 284.6L480.3 280.8" stroke="#c21818" stroke-width="1.9" stroke-linecap="round"/>
<path d="M620.1 302.8L606.5 293" stroke="#d3cdd2" stroke-width="1.3" stroke-linecap="round"/>
<path d="M606.8 293.6L603.3 290.3" stroke="#c21818" stroke-width="2" stroke-linecap="round"/>
<defs><linearGradient id="tube" x1="0" x2="0" y1="0" y2="1"><stop offset="0" stop-color="#c9ccd2"/><stop offset=".45" stop-color="#f4f5f8"/><stop offset="1" stop-color="#b9bcc3"/></linearGradient><linearGradient id="tubeD" x1="0" x2="0" y1="0" y2="1"><stop offset="0" stop-color="#8d9096"/><stop offset=".45" stop-color="#b4b6bb"/><stop offset="1" stop-color="#7d8086"/></linearGradient></defs>
<g transform="translate(634.2 304.2) rotate(-19.5)"><path d="M0 -3.4H36.6A3.4 3.4 0 0 1 36.6 3.4H0Z" fill="url(#tube)" stroke="#bfc2c8" stroke-width=".4"/><path d="M25.5 -3.4H36.6A3.4 3.4 0 0 1 36.6 3.4H25.5Z" fill="url(#tubeD)"/><ellipse cx="0" cy="0" rx="1" ry="3.6" fill="#fafbfd" stroke="#c2c5cc" stroke-width=".5"/></g>
<path d="M444.2 316V342Q444.2 346.9 448.6 346.9H467.6Q472 346.9 472 342V310.4Q456 314.2 439.6 310.6Q443.6 312 444.2 316Z" fill="#f3f5fb"/>
<path d="M444.6 329Q458 332.5 471.6 329V342Q471.6 346.4 467.5 346.4H448.8Q444.6 346.4 444.6 342Z" fill="#fafbfe"/>
<g fill="none" stroke="#c2cadd" stroke-width="1.2" stroke-linejoin="round" stroke-linecap="round"><path d="M439.6 310.6Q443.6 312 444.2 316V342Q444.2 346.9 448.6 346.9H467.6Q472 346.9 472 342V310.4" /><path d="M439.6 310.6Q456 314.2 472 310.4" stroke-width=".8"/><path d="M444.2 328.6Q458 323.8 472 328.6Q458 332.8 444.2 328.6Z" fill="#eceff8" stroke-width=".8"/></g>
<path d="M459.2 341.3L476.6 335M633.3 343.1L651.3 336.9" stroke="#222" stroke-width=".7" fill="none"/>
<path d="M455.8 382.8L469.2 389L464 402.5L450.6 397.3Z" fill="#c6c9cf"/>
<path d="M455.8 382.8L462.5 385.9L457.3 399.9L450.6 397.3Z" fill="#dfe5f3"/>
<path d="M455.8 382.8L469.2 389L464 402.5L450.6 397.3Z" fill="none" stroke="#b9bdc6" stroke-width=".5"/>
<path d="M603.5 382.8L615.9 390L610.8 402.5L597.3 397.3Z" fill="#c6c9cf"/>
<path d="M603.5 382.8L609.7 386.4L604.0 399.9L597.3 397.3Z" fill="#dfe5f3"/>
<path d="M603.5 382.8L615.9 390L610.8 402.5L597.3 397.3Z" fill="none" stroke="#b9bdc6" stroke-width=".5"/>
<defs><filter id="sem" x="0" y="0" width="100%" height="100%" color-interpolation-filters="sRGB"><feTurbulence type="fractalNoise" baseFrequency=".9" numOctaves="2" seed="4"/><feColorMatrix values="0 0 0 0 .85  0 0 0 0 .85  0 0 0 0 .85  1.3 0 0 0 -.52"/><feComposite in2="SourceGraphic" operator="in"/></filter></defs>
<rect x="651.8" y="408.1" width="35.1" height="26.9" fill="#6b6b6b"/>
<rect x="651.8" y="408.1" width="35.1" height="26.9" fill="#6e6e6e" filter="url(#sem)" opacity=".45"/>
<path d="M651.8 416.8H687M651.8 430.2H687" stroke="#a8a8a8" stroke-width=".5"/>
<path d="M677 411H685M675 422H685M676 432.5H685" stroke="#c9c9c9" stroke-width=".7"/>
<rect x="698.9" y="408.1" width="22.9" height="25.9" fill="#8f8f8f"/>
<rect x="700.6" y="410" width="18.6" height="22.6" fill="#3e3e3e"/>
<rect x="698.9" y="408.1" width="22.9" height="25.9" fill="#777" filter="url(#sem)" opacity=".6"/>
<path d="M714.6 411Q716.8 418 715.2 424Q714.6 429 716.2 432.6" stroke="#d8d8d8" stroke-width="2" fill="none" opacity=".7"/>
<ellipse cx="708.2" cy="423.2" rx="2" ry="2.4" fill="#1c1c1c"/>
<text x="416.3" y="480.1" font-size="14.3" fill="#111" font-weight="bold">i</text>
<text x="583.3" y="480.1" font-size="14.3" fill="#111" font-weight="bold">j</text>
<g id="chart-i">
<clipPath id="ci"><rect x="447.4" y="496.2" width="104.8" height="101.9"/></clipPath>
<g clip-path="url(#ci)">
<path d="M447.4 581.1 L447.4 590.1 L447.8 590.1 L447.8 581.4 L448.3 581.4 L448.3 560.2 L449 560.2 L449 561.8 L449.6 561.8 L449.6 576.4 L450.2 576.4 L450.2 585 L450.9 585 L450.9 590.1 L451.4 590.1 L451.4 581.1 L451.8 581.1 L451.8 560.2 L452.5 560.2 L452.5 560.4 L453.1 560.4 L453.1 579.3 L453.7 579.3 L453.7 585.7 L454.5 585.7 L454.5 590.1 L454.9 590.1 L454.9 580.6 L455.3 580.6 L455.3 560.2 L456.1 560.2 L456.1 562.6 L456.7 562.6 L456.7 576 L457.3 576 L457.3 586.1 L458 586.1 L458 590.1 L458.5 590.1 L458.5 581.8 L458.9 581.8 L458.9 560.2 L459.6 560.2 L459.6 565.8 L460.2 565.8 L460.2 577.4 L460.8 577.4 L460.8 585.5 L461.6 585.5 L461.6 590.1 L462 590.1 L462 582.9 L462.4 582.9 L462.4 560.2 L463.1 560.2 L463.1 566 L463.8 566 L463.8 578.4 L464.4 578.4 L464.4 585 L465.1 585 L465.1 590.1 L465.6 590.1 L465.6 581 L466 581 L466 560.2 L466.7 560.2 L466.7 566.4 L467.3 566.4 L467.3 576.4 L467.9 576.4 L467.9 586.1 L468.7 586.1" fill="none" stroke="#5e5e5e" stroke-width="0.8" stroke-linejoin="round" stroke-linejoin="miter"/>
<path d="M468.7 577.6 L468.7 590.1 L469.1 590.1 L469.1 578 L469.5 578 L469.5 548.3 L470.2 548.3 L470.2 557.5 L470.8 557.5 L470.8 575.2 L471.4 575.2 L471.4 583.1 L472.2 583.1 L472.2 590.1 L472.6 590.1 L472.6 579.4 L473 579.4 L473 548.3 L473.7 548.3 L473.7 556.5 L474.3 556.5 L474.3 570 L474.9 570 L474.9 583.1 L475.7 583.1 L475.7 590.1 L476.1 590.1 L476.1 579.1 L476.5 579.1 L476.5 548.3 L477.2 548.3 L477.2 548.3 L477.8 548.3 L477.8 572.4 L478.4 572.4 L478.4 583.5 L479.2 583.5 L479.2 590.1 L479.6 590.1 L479.6 579.4 L480 579.4 L480 548.3 L480.7 548.3 L480.7 548.5 L481.3 548.5 L481.3 571.6 L481.9 571.6 L481.9 583 L482.6 583 L482.6 590.1 L483.1 590.1 L483.1 577 L483.5 577 L483.5 548.3 L484.2 548.3 L484.2 555.6 L484.8 555.6 L484.8 573.3 L485.4 573.3 L485.4 584.5 L486.1 584.5 L486.1 590.1 L486.5 590.1 L486.5 579.6 L487 579.6 L487 548.3 L487.7 548.3 L487.7 558.1 L488.3 558.1 L488.3 573.6 L488.9 573.6 L488.9 583.6 L489.6 583.6" fill="none" stroke="#2f8f2f" stroke-width="0.8" stroke-linejoin="round" stroke-linejoin="miter"/>
<path d="M489.6 573.3 L489.6 590.1 L490 590.1 L490 576.8 L490.4 576.8 L490.4 534.2 L491.1 534.2 L491.1 538.2 L491.7 538.2 L491.7 567.7 L492.3 567.7 L492.3 582.2 L493.1 582.2 L493.1 590.1 L493.5 590.1 L493.5 572.9 L493.9 572.9 L493.9 534.2 L494.6 534.2 L494.6 541.2 L495.2 541.2 L495.2 567.9 L495.7 567.9 L495.7 581.8 L496.5 581.8 L496.5 590.1 L496.9 590.1 L496.9 573.5 L497.3 573.5 L497.3 534.2 L498 534.2 L498 547.4 L498.6 547.4 L498.6 563.3 L499.2 563.3 L499.2 582.9 L499.9 582.9 L499.9 590.1 L500.3 590.1 L500.3 573.3 L500.7 573.3 L500.7 534.2 L501.4 534.2 L501.4 535.8 L502 535.8 L502 570 L502.6 570 L502.6 581 L503.3 581 L503.3 590.1 L503.8 590.1 L503.8 575.1 L504.2 575.1 L504.2 534.2 L504.9 534.2 L504.9 539.7 L505.5 539.7 L505.5 570.1 L506 570.1 L506 582.8 L506.8 582.8 L506.8 590.1 L507.2 590.1 L507.2 575.9 L507.6 575.9 L507.6 534.2 L508.3 534.2 L508.3 534.1 L508.9 534.1 L508.9 568.7 L509.5 568.7 L509.5 581.1 L510.2 581.1" fill="none" stroke="#b5d89a" stroke-width="0.8" stroke-linejoin="round" stroke-linejoin="miter"/>
<path d="M510.2 569.1 L510.2 590.1 L510.6 590.1 L510.6 567.9 L511.1 567.9 L511.1 520 L511.8 520 L511.8 520.2 L512.4 520.2 L512.4 562 L512.9 562 L512.9 580 L513.7 580 L513.7 590.1 L514.1 590.1 L514.1 570.3 L514.5 570.3 L514.5 520 L515.2 520 L515.2 523.3 L515.9 523.3 L515.9 564.1 L516.4 564.1 L516.4 578.8 L517.2 578.8 L517.2 590.1 L517.6 590.1 L517.6 568.7 L518 568.7 L518 520 L518.7 520 L518.7 521.7 L519.4 521.7 L519.4 564.7 L519.9 564.7 L519.9 578.2 L520.7 578.2 L520.7 590.1 L521.1 590.1 L521.1 572.9 L521.5 572.9 L521.5 520 L522.2 520 L522.2 531.3 L522.8 531.3 L522.8 559.7 L523.4 559.7 L523.4 578.3 L524.2 578.3 L524.2 590.1 L524.6 590.1 L524.6 571.4 L525 571.4 L525 520 L525.7 520 L525.7 520.5 L526.3 520.5 L526.3 560.2 L526.9 560.2 L526.9 580.2 L527.7 580.2 L527.7 590.1 L528.1 590.1 L528.1 571.5 L528.5 571.5 L528.5 520 L529.2 520 L529.2 534.4 L529.8 534.4 L529.8 564.4 L530.4 564.4 L530.4 580.7 L531.2 580.7" fill="none" stroke="#f4c07a" stroke-width="0.8" stroke-linejoin="round" stroke-linejoin="miter"/>
<path d="M531.2 565 L531.2 590.1 L531.6 590.1 L531.6 565.4 L532 565.4 L532 506.6 L532.7 506.6 L532.7 505.6 L533.3 505.6 L533.3 558.6 L533.8 558.6 L533.8 579.3 L534.6 579.3 L534.6 590.1 L535 590.1 L535 563.3 L535.4 563.3 L535.4 506.6 L536.1 506.6 L536.1 515.9 L536.7 515.9 L536.7 556 L537.3 556 L537.3 578.6 L538 578.6 L538 590.1 L538.4 590.1 L538.4 566.1 L538.8 566.1 L538.8 506.6 L539.5 506.6 L539.5 509.4 L540.1 509.4 L540.1 555.5 L540.7 555.5 L540.7 577.9 L541.5 577.9 L541.5 590.1 L541.9 590.1 L541.9 569.8 L542.3 569.8 L542.3 506.6 L543 506.6 L543 507.4 L543.6 507.4 L543.6 559.9 L544.1 559.9 L544.1 577.6 L544.9 577.6 L544.9 590.1 L545.3 590.1 L545.3 564.3 L545.7 564.3 L545.7 506.6 L546.4 506.6 L546.4 524.7 L547 524.7 L547 552.6 L547.6 552.6 L547.6 575.9 L548.3 575.9 L548.3 590.1 L548.7 590.1 L548.7 565.8 L549.1 565.8 L549.1 506.6 L549.8 506.6 L549.8 510.2 L550.4 510.2 L550.4 559.2 L551 559.2 L551 577.8 L551.7 577.8" fill="none" stroke="#c58a32" stroke-width="0.8" stroke-linejoin="round" stroke-linejoin="miter"/>
</g>
<path d="M447.4 496.2V598.1H551.7" fill="none" stroke="#666" stroke-width=".6"/>
<path d="M447.4 496.2H551.7V598.1" fill="none" stroke="#999" stroke-width=".5"/>
<text x="444.2" y="592.9" font-size="8.0" text-anchor="end" fill="#151515" textLength="3.0" lengthAdjust="spacingAndGlyphs">0</text>
<text x="444.2" y="577.1" font-size="8.0" text-anchor="end" fill="#151515" textLength="3.0" lengthAdjust="spacingAndGlyphs">2</text>
<text x="444.2" y="561.4" font-size="8.0" text-anchor="end" fill="#151515" textLength="3.0" lengthAdjust="spacingAndGlyphs">4</text>
<text x="444.2" y="545.6" font-size="8.0" text-anchor="end" fill="#151515" textLength="3.0" lengthAdjust="spacingAndGlyphs">6</text>
<text x="444.2" y="529.9" font-size="8.0" text-anchor="end" fill="#151515" textLength="3.0" lengthAdjust="spacingAndGlyphs">8</text>
<text x="444.2" y="514.1" font-size="8.0" text-anchor="end" fill="#151515" textLength="6.1" lengthAdjust="spacingAndGlyphs">10</text>
<text x="444.2" y="498.3" font-size="8.0" text-anchor="end" fill="#151515" textLength="6.1" lengthAdjust="spacingAndGlyphs">12</text>
<text x="447.4" y="607.2" font-size="8.0" text-anchor="middle" fill="#151515" textLength="3.0" lengthAdjust="spacingAndGlyphs">0</text>
<text x="461.1" y="607.2" font-size="8.0" text-anchor="middle" fill="#151515" textLength="6.1" lengthAdjust="spacingAndGlyphs">20</text>
<text x="474.9" y="607.2" font-size="8.0" text-anchor="middle" fill="#151515" textLength="6.1" lengthAdjust="spacingAndGlyphs">40</text>
<text x="488.6" y="607.2" font-size="8.0" text-anchor="middle" fill="#151515" textLength="6.1" lengthAdjust="spacingAndGlyphs">60</text>
<text x="502.3" y="607.2" font-size="8.0" text-anchor="middle" fill="#151515" textLength="6.1" lengthAdjust="spacingAndGlyphs">80</text>
<text x="516.0" y="607.2" font-size="8.0" text-anchor="middle" fill="#151515" textLength="9.1" lengthAdjust="spacingAndGlyphs">100</text>
<text x="529.8" y="607.2" font-size="8.0" text-anchor="middle" fill="#151515" textLength="9.1" lengthAdjust="spacingAndGlyphs">120</text>
<text x="543.5" y="607.2" font-size="8.0" text-anchor="middle" fill="#151515" textLength="9.1" lengthAdjust="spacingAndGlyphs">140</text>
<path d="M447.4 590.1h-2M447.4 574.3h-2M447.4 558.6h-2M447.4 542.8h-2M447.4 527.1h-2M447.4 511.3h-2M447.4 495.5h-2M447.4 582.2h-1.1M447.4 566.5h-1.1M447.4 550.7h-1.1M447.4 534.9h-1.1M447.4 519.2h-1.1M447.4 503.4h-1.1M447.4 598.1v2M461.1 598.1v2M474.9 598.1v2M488.6 598.1v2M502.3 598.1v2M516.0 598.1v2M529.8 598.1v2M543.5 598.1v2M454.3 598.1v1.1M468.0 598.1v1.1M481.7 598.1v1.1M495.5 598.1v1.1M509.2 598.1v1.1M522.9 598.1v1.1M536.6 598.1v1.1M550.4 598.1v1.1" stroke="#444" stroke-width=".5"/>
<text x="504.2" y="616.0" font-size="8.8" text-anchor="middle" fill="#151515" textLength="25.5" lengthAdjust="spacingAndGlyphs">Time (s)</text>
<text transform="translate(437.8 551.8) rotate(-90)" font-size="7.6" text-anchor="middle" fill="#111" textLength="46" lengthAdjust="spacingAndGlyphs">Δ<tspan font-style="italic">R/R</tspan><tspan font-size="5" dy="1.4">0</tspan><tspan dy="-1.4"> /100%</tspan></text>
<text x="450.9" y="555.8" font-size="6.8" fill="#444" textLength="14.5" lengthAdjust="spacingAndGlyphs">1.0 N</text>
<text x="471.8" y="545.7" font-size="6.8" fill="#2f8f2f" textLength="14.5" lengthAdjust="spacingAndGlyphs">1.5 N</text>
<text x="491.9" y="531.6" font-size="6.8" fill="#b5d89a" textLength="14.5" lengthAdjust="spacingAndGlyphs">2.0 N</text>
<text x="512.9" y="517.6" font-size="6.8" fill="#f4c07a" textLength="14.5" lengthAdjust="spacingAndGlyphs">2.5 N</text>
<text x="534.0" y="503.6" font-size="6.8" fill="#c58a32" textLength="14.5" lengthAdjust="spacingAndGlyphs">3.0 N</text>
</g>
<g id="chart-j">
<path d="M615.3 496.2V598.1H719.6" fill="none" stroke="#666" stroke-width=".6"/>
<path d="M615.3 496.2H719.6V598.1" fill="none" stroke="#999" stroke-width=".5"/>
<text x="612.0" y="600.9" font-size="8.0" text-anchor="end" fill="#151515" textLength="3.0" lengthAdjust="spacingAndGlyphs">0</text>
<text x="612.0" y="575.4" font-size="8.0" text-anchor="end" fill="#151515" textLength="3.0" lengthAdjust="spacingAndGlyphs">3</text>
<text x="612.0" y="550.0" font-size="8.0" text-anchor="end" fill="#151515" textLength="3.0" lengthAdjust="spacingAndGlyphs">6</text>
<text x="612.0" y="524.5" font-size="8.0" text-anchor="end" fill="#151515" textLength="3.0" lengthAdjust="spacingAndGlyphs">9</text>
<text x="612.0" y="499.0" font-size="8.0" text-anchor="end" fill="#151515" textLength="6.1" lengthAdjust="spacingAndGlyphs">12</text>
<text x="625.2" y="607.2" font-size="8.0" text-anchor="middle" fill="#151515" textLength="8.2" lengthAdjust="spacingAndGlyphs">1.0</text>
<text x="646.0" y="607.2" font-size="8.0" text-anchor="middle" fill="#151515" textLength="8.2" lengthAdjust="spacingAndGlyphs">1.5</text>
<text x="666.8" y="607.2" font-size="8.0" text-anchor="middle" fill="#151515" textLength="8.2" lengthAdjust="spacingAndGlyphs">2.0</text>
<text x="687.5" y="607.2" font-size="8.0" text-anchor="middle" fill="#151515" textLength="8.2" lengthAdjust="spacingAndGlyphs">2.5</text>
<text x="708.3" y="607.2" font-size="8.0" text-anchor="middle" fill="#151515" textLength="8.2" lengthAdjust="spacingAndGlyphs">3.0</text>
<path d="M615.3 598.1h-2M615.3 572.6h-2M615.3 547.2h-2M615.3 521.7h-2M615.3 496.2h-2M615.3 585.4h-1.1M615.3 559.9h-1.1M615.3 534.4h-1.1M615.3 509.0h-1.1M625.2 598.1v2M646.0 598.1v2M666.8 598.1v2M687.5 598.1v2M708.3 598.1v2M635.6 598.1v1.1M656.4 598.1v1.1M677.1 598.1v1.1M697.9 598.1v1.1" stroke="#444" stroke-width=".5"/>
<circle cx="625.2" cy="565.8" r="1.25" fill="#7f7f18" stroke="#c9c978" stroke-width=".4"/>
<circle cx="646.0" cy="552.7" r="1.25" fill="#7f7f18" stroke="#c9c978" stroke-width=".4"/>
<circle cx="666.8" cy="537.8" r="1.25" fill="#7f7f18" stroke="#c9c978" stroke-width=".4"/>
<circle cx="687.5" cy="523.0" r="1.25" fill="#7f7f18" stroke="#c9c978" stroke-width=".4"/>
<circle cx="708.3" cy="509.8" r="1.25" fill="#7f7f18" stroke="#c9c978" stroke-width=".4"/>
<text x="661.3" y="504.8" font-size="7" fill="#7d7d14" font-style="italic" textLength="54" lengthAdjust="spacingAndGlyphs">ΔR/R<tspan font-size="4.2" dy="1.2">0</tspan><tspan dy="-1.2" font-style="normal">=3.34×</tspan>F<tspan font-style="normal">+0.39</tspan></text>
<text x="667.3" y="616.8" font-size="8.8" text-anchor="middle" fill="#151515" textLength="29.5" lengthAdjust="spacingAndGlyphs">Force (N)</text>
<text transform="translate(605.4 547.4) rotate(-90)" font-size="7.6" text-anchor="middle" fill="#111" textLength="39" lengthAdjust="spacingAndGlyphs">Δ<tspan font-style="italic">R/R</tspan><tspan font-size="5" dy="1.4">0</tspan><tspan dy="-1.4"> (%)</tspan></text>
</g>
</g>
</svg>
</body></html>
